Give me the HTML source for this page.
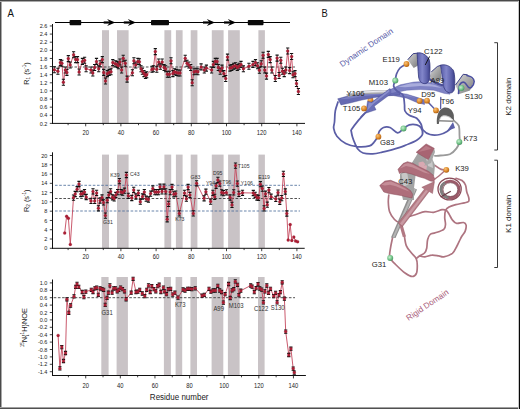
<!DOCTYPE html><html><head><meta charset="utf-8"><style>html,body{margin:0;padding:0;background:#fff;} svg{display:block}</style></head><body>
<svg width="520" height="409" viewBox="0 0 520 409">
<rect x="0" y="0" width="520" height="409" fill="#fff"/>
<line x1="55" y1="22.5" x2="290" y2="22.5" stroke="#000" stroke-width="1.1"/>
<rect x="69.6" y="19.9" width="11.6" height="5.3" rx="0.9" fill="#0a0a0a"/>
<rect x="151" y="19.9" width="18.0" height="5.3" rx="0.9" fill="#0a0a0a"/>
<rect x="247.8" y="19.9" width="15.7" height="5.3" rx="0.9" fill="#0a0a0a"/>
<line x1="103.7" y1="22.5" x2="111.3" y2="22.5" stroke="#000" stroke-width="2.2"/>
<path d="M107.1,18.9 L115.3,22.5 L107.1,26.1 L110.1,22.5 Z" fill="#000"/>
<line x1="123.8" y1="22.5" x2="132" y2="22.5" stroke="#000" stroke-width="2.2"/>
<path d="M127.8,18.9 L136,22.5 L127.8,26.1 L130.8,22.5 Z" fill="#000"/>
<line x1="203" y1="22.5" x2="211" y2="22.5" stroke="#000" stroke-width="2.2"/>
<path d="M206.8,18.9 L215,22.5 L206.8,26.1 L209.8,22.5 Z" fill="#000"/>
<line x1="224" y1="22.5" x2="232" y2="22.5" stroke="#000" stroke-width="2.2"/>
<path d="M227.8,18.9 L236,22.5 L227.8,26.1 L230.8,22.5 Z" fill="#000"/>
<rect x="102" y="30.2" width="7.00" height="93.20" fill="#c9c3c6"/>
<rect x="117" y="30.2" width="11.60" height="93.20" fill="#c9c3c6"/>
<rect x="164.4" y="30.2" width="6.80" height="93.20" fill="#c9c3c6"/>
<rect x="175.9" y="30.2" width="6.70" height="93.20" fill="#c9c3c6"/>
<rect x="190.7" y="30.2" width="6.70" height="93.20" fill="#c9c3c6"/>
<rect x="211.8" y="30.2" width="11.80" height="93.20" fill="#c9c3c6"/>
<rect x="228.1" y="30.2" width="11.70" height="93.20" fill="#c9c3c6"/>
<rect x="258.4" y="30.2" width="6.50" height="93.20" fill="#c9c3c6"/>
<line x1="53.5" y1="67.0" x2="295" y2="67.0" stroke="#333" stroke-width="0.85" stroke-dasharray="2.6,1.6"/>
<line x1="52.5" y1="24" x2="52.5" y2="123.9" stroke="#111" stroke-width="1"/>
<line x1="52" y1="123.4" x2="305" y2="123.4" stroke="#111" stroke-width="1"/>
<line x1="49.8" y1="123.40" x2="52.5" y2="123.40" stroke="#111" stroke-width="0.8"/>
<text transform="translate(47.4,125.50) scale(0.92,1)" text-anchor="end" font-size="6" fill="#222" style="font-family:'Liberation Sans',sans-serif">0.2</text>
<line x1="49.8" y1="115.28" x2="52.5" y2="115.28" stroke="#111" stroke-width="0.8"/>
<text transform="translate(47.4,117.38) scale(0.92,1)" text-anchor="end" font-size="6" fill="#222" style="font-family:'Liberation Sans',sans-serif">0.4</text>
<line x1="49.8" y1="107.16" x2="52.5" y2="107.16" stroke="#111" stroke-width="0.8"/>
<text transform="translate(47.4,109.26) scale(0.92,1)" text-anchor="end" font-size="6" fill="#222" style="font-family:'Liberation Sans',sans-serif">0.6</text>
<line x1="49.8" y1="99.04" x2="52.5" y2="99.04" stroke="#111" stroke-width="0.8"/>
<text transform="translate(47.4,101.14) scale(0.92,1)" text-anchor="end" font-size="6" fill="#222" style="font-family:'Liberation Sans',sans-serif">0.8</text>
<line x1="49.8" y1="90.92" x2="52.5" y2="90.92" stroke="#111" stroke-width="0.8"/>
<text transform="translate(47.4,93.02) scale(0.92,1)" text-anchor="end" font-size="6" fill="#222" style="font-family:'Liberation Sans',sans-serif">1.0</text>
<line x1="49.8" y1="82.80" x2="52.5" y2="82.80" stroke="#111" stroke-width="0.8"/>
<text transform="translate(47.4,84.90) scale(0.92,1)" text-anchor="end" font-size="6" fill="#222" style="font-family:'Liberation Sans',sans-serif">1.2</text>
<line x1="49.8" y1="74.68" x2="52.5" y2="74.68" stroke="#111" stroke-width="0.8"/>
<text transform="translate(47.4,76.78) scale(0.92,1)" text-anchor="end" font-size="6" fill="#222" style="font-family:'Liberation Sans',sans-serif">1.4</text>
<line x1="49.8" y1="66.56" x2="52.5" y2="66.56" stroke="#111" stroke-width="0.8"/>
<text transform="translate(47.4,68.66) scale(0.92,1)" text-anchor="end" font-size="6" fill="#222" style="font-family:'Liberation Sans',sans-serif">1.6</text>
<line x1="49.8" y1="58.44" x2="52.5" y2="58.44" stroke="#111" stroke-width="0.8"/>
<text transform="translate(47.4,60.54) scale(0.92,1)" text-anchor="end" font-size="6" fill="#222" style="font-family:'Liberation Sans',sans-serif">1.8</text>
<line x1="49.8" y1="50.32" x2="52.5" y2="50.32" stroke="#111" stroke-width="0.8"/>
<text transform="translate(47.4,52.42) scale(0.92,1)" text-anchor="end" font-size="6" fill="#222" style="font-family:'Liberation Sans',sans-serif">2.0</text>
<line x1="49.8" y1="42.20" x2="52.5" y2="42.20" stroke="#111" stroke-width="0.8"/>
<text transform="translate(47.4,44.30) scale(0.92,1)" text-anchor="end" font-size="6" fill="#222" style="font-family:'Liberation Sans',sans-serif">2.2</text>
<line x1="49.8" y1="34.08" x2="52.5" y2="34.08" stroke="#111" stroke-width="0.8"/>
<text transform="translate(47.4,36.18) scale(0.92,1)" text-anchor="end" font-size="6" fill="#222" style="font-family:'Liberation Sans',sans-serif">2.4</text>
<line x1="49.8" y1="25.96" x2="52.5" y2="25.96" stroke="#111" stroke-width="0.8"/>
<text transform="translate(47.4,28.06) scale(0.92,1)" text-anchor="end" font-size="6" fill="#222" style="font-family:'Liberation Sans',sans-serif">2.6</text>
<line x1="68.10" y1="123.4" x2="68.10" y2="125.2" stroke="#111" stroke-width="0.8"/>
<line x1="85.70" y1="123.4" x2="85.70" y2="126.30000000000001" stroke="#111" stroke-width="0.8"/>
<text transform="translate(85.70,134.90) scale(0.87,1)" text-anchor="middle" font-size="6.7" fill="#222" style="font-family:'Liberation Sans',sans-serif">20</text>
<line x1="103.30" y1="123.4" x2="103.30" y2="125.2" stroke="#111" stroke-width="0.8"/>
<line x1="120.90" y1="123.4" x2="120.90" y2="126.30000000000001" stroke="#111" stroke-width="0.8"/>
<text transform="translate(120.90,134.90) scale(0.87,1)" text-anchor="middle" font-size="6.7" fill="#222" style="font-family:'Liberation Sans',sans-serif">40</text>
<line x1="138.50" y1="123.4" x2="138.50" y2="125.2" stroke="#111" stroke-width="0.8"/>
<line x1="156.10" y1="123.4" x2="156.10" y2="126.30000000000001" stroke="#111" stroke-width="0.8"/>
<text transform="translate(156.10,134.90) scale(0.87,1)" text-anchor="middle" font-size="6.7" fill="#222" style="font-family:'Liberation Sans',sans-serif">60</text>
<line x1="173.70" y1="123.4" x2="173.70" y2="125.2" stroke="#111" stroke-width="0.8"/>
<line x1="191.30" y1="123.4" x2="191.30" y2="126.30000000000001" stroke="#111" stroke-width="0.8"/>
<text transform="translate(191.30,134.90) scale(0.87,1)" text-anchor="middle" font-size="6.7" fill="#222" style="font-family:'Liberation Sans',sans-serif">80</text>
<line x1="208.90" y1="123.4" x2="208.90" y2="125.2" stroke="#111" stroke-width="0.8"/>
<line x1="226.50" y1="123.4" x2="226.50" y2="126.30000000000001" stroke="#111" stroke-width="0.8"/>
<text transform="translate(226.50,134.90) scale(0.87,1)" text-anchor="middle" font-size="6.7" fill="#222" style="font-family:'Liberation Sans',sans-serif">100</text>
<line x1="244.10" y1="123.4" x2="244.10" y2="125.2" stroke="#111" stroke-width="0.8"/>
<line x1="261.70" y1="123.4" x2="261.70" y2="126.30000000000001" stroke="#111" stroke-width="0.8"/>
<text transform="translate(261.70,134.90) scale(0.87,1)" text-anchor="middle" font-size="6.7" fill="#222" style="font-family:'Liberation Sans',sans-serif">120</text>
<line x1="279.30" y1="123.4" x2="279.30" y2="125.2" stroke="#111" stroke-width="0.8"/>
<line x1="296.90" y1="123.4" x2="296.90" y2="126.30000000000001" stroke="#111" stroke-width="0.8"/>
<text transform="translate(296.90,134.90) scale(0.87,1)" text-anchor="middle" font-size="6.7" fill="#222" style="font-family:'Liberation Sans',sans-serif">140</text>
<polyline points="54.3,69.7 57.9,71.2 60.4,62.6 61.9,63.2 63.4,82.2 65.3,70.0 66.9,72.4 68.3,58.6 70.2,65.0 73.6,54.7 75.7,59.6 77.5,59.6 79.1,72.0 82.4,61.4 84.6,60.2 86.1,68.7 91.0,70.0 92.8,73.0 94.6,67.5 96.5,61.4 98.7,68.7 100.1,63.8 102.3,59.6 103.7,72.4 105.5,81.0 107.3,73.6 109.2,72.4 111.0,71.8 112.8,62.6 115.3,63.8 117.1,64.4 118.3,65.7 119.9,62.0 121.6,70.0 123.2,58.3 125.3,63.2 127.1,79.1 132.4,72.8 133.9,60.8 135.7,65.0 137.9,61.4 139.4,61.8 141.0,68.7 142.4,71.2 144.0,73.6 145.5,75.5 146.7,74.8 152.0,69.3 153.4,68.7 155.3,51.6 156.8,69.3 158.7,62.0 160.4,66.3 162.2,62.0 164.1,67.5 165.6,68.7 167.4,74.2 169.3,74.2 171.0,60.8 172.9,73.6 174.4,71.8 176.3,72.4 178.1,73.0 180.0,73.0 185.2,58.3 187.0,63.2 188.9,65.0 190.7,67.5 192.2,82.8 194.0,71.8 196.1,71.2 197.9,71.8 201.1,66.9 204.3,70.0 206.4,68.1 211.6,70.0 213.4,64.4 215.3,61.4 217.1,61.4 218.3,67.5 220.2,71.2 222.0,68.1 223.8,73.6 225.7,78.5 227.5,57.1 230.0,68.1 231.8,67.5 233.6,66.3 235.5,65.7 237.3,67.5 239.1,66.3 241.0,64.4 243.4,68.7 248.9,66.3 253.0,64.4 255.5,62.6 257.6,65.7 259.4,70.3 261.2,63.8 263.1,55.3 264.7,70.0 266.5,76.1 268.3,54.4 270.2,59.6 271.8,70.0 275.3,78.5 277.1,58.1 279.1,75.5 280.8,60.2 282.4,71.2 284.2,73.6 285.8,70.0 287.7,51.0 289.7,70.6 291.6,56.5 293.0,74.8 295.0,73.6 296.5,83.5 298.4,91.5" fill="none" stroke="#c4475c" stroke-width="0.9"/>
<path d="M54.3,66.7V72.7" stroke="#111" stroke-width="0.75" fill="none"/><path d="M52.7,66.7H55.9M52.7,72.7H55.9" stroke="#111" stroke-width="1.1" fill="none"/>
<path d="M57.9,68.2V74.2" stroke="#111" stroke-width="0.75" fill="none"/><path d="M56.3,68.2H59.5M56.3,74.2H59.5" stroke="#111" stroke-width="1.1" fill="none"/>
<path d="M60.4,59.6V65.6" stroke="#111" stroke-width="0.75" fill="none"/><path d="M58.8,59.6H62.0M58.8,65.6H62.0" stroke="#111" stroke-width="1.1" fill="none"/>
<path d="M61.9,60.2V66.2" stroke="#111" stroke-width="0.75" fill="none"/><path d="M60.3,60.2H63.5M60.3,66.2H63.5" stroke="#111" stroke-width="1.1" fill="none"/>
<path d="M63.4,79.2V85.2" stroke="#111" stroke-width="0.75" fill="none"/><path d="M61.8,79.2H65.0M61.8,85.2H65.0" stroke="#111" stroke-width="1.1" fill="none"/>
<path d="M65.3,67.0V73.0" stroke="#111" stroke-width="0.75" fill="none"/><path d="M63.7,67.0H66.9M63.7,73.0H66.9" stroke="#111" stroke-width="1.1" fill="none"/>
<path d="M66.9,69.4V75.4" stroke="#111" stroke-width="0.75" fill="none"/><path d="M65.3,69.4H68.5M65.3,75.4H68.5" stroke="#111" stroke-width="1.1" fill="none"/>
<path d="M68.3,55.6V61.6" stroke="#111" stroke-width="0.75" fill="none"/><path d="M66.7,55.6H69.9M66.7,61.6H69.9" stroke="#111" stroke-width="1.1" fill="none"/>
<path d="M70.2,62.0V68.0" stroke="#111" stroke-width="0.75" fill="none"/><path d="M68.6,62.0H71.8M68.6,68.0H71.8" stroke="#111" stroke-width="1.1" fill="none"/>
<path d="M73.6,51.7V57.7" stroke="#111" stroke-width="0.75" fill="none"/><path d="M72.0,51.7H75.2M72.0,57.7H75.2" stroke="#111" stroke-width="1.1" fill="none"/>
<path d="M75.7,56.6V62.6" stroke="#111" stroke-width="0.75" fill="none"/><path d="M74.1,56.6H77.3M74.1,62.6H77.3" stroke="#111" stroke-width="1.1" fill="none"/>
<path d="M77.5,56.6V62.6" stroke="#111" stroke-width="0.75" fill="none"/><path d="M75.9,56.6H79.1M75.9,62.6H79.1" stroke="#111" stroke-width="1.1" fill="none"/>
<path d="M79.1,69.0V75.0" stroke="#111" stroke-width="0.75" fill="none"/><path d="M77.5,69.0H80.7M77.5,75.0H80.7" stroke="#111" stroke-width="1.1" fill="none"/>
<path d="M82.4,58.4V64.4" stroke="#111" stroke-width="0.75" fill="none"/><path d="M80.8,58.4H84.0M80.8,64.4H84.0" stroke="#111" stroke-width="1.1" fill="none"/>
<path d="M84.6,57.2V63.2" stroke="#111" stroke-width="0.75" fill="none"/><path d="M83.0,57.2H86.2M83.0,63.2H86.2" stroke="#111" stroke-width="1.1" fill="none"/>
<path d="M86.1,65.7V71.7" stroke="#111" stroke-width="0.75" fill="none"/><path d="M84.5,65.7H87.7M84.5,71.7H87.7" stroke="#111" stroke-width="1.1" fill="none"/>
<path d="M91.0,67.0V73.0" stroke="#111" stroke-width="0.75" fill="none"/><path d="M89.4,67.0H92.6M89.4,73.0H92.6" stroke="#111" stroke-width="1.1" fill="none"/>
<path d="M92.8,70.0V76.0" stroke="#111" stroke-width="0.75" fill="none"/><path d="M91.2,70.0H94.4M91.2,76.0H94.4" stroke="#111" stroke-width="1.1" fill="none"/>
<path d="M94.6,64.5V70.5" stroke="#111" stroke-width="0.75" fill="none"/><path d="M93.0,64.5H96.2M93.0,70.5H96.2" stroke="#111" stroke-width="1.1" fill="none"/>
<path d="M96.5,58.4V64.4" stroke="#111" stroke-width="0.75" fill="none"/><path d="M94.9,58.4H98.1M94.9,64.4H98.1" stroke="#111" stroke-width="1.1" fill="none"/>
<path d="M98.7,65.7V71.7" stroke="#111" stroke-width="0.75" fill="none"/><path d="M97.1,65.7H100.3M97.1,71.7H100.3" stroke="#111" stroke-width="1.1" fill="none"/>
<path d="M100.1,60.8V66.8" stroke="#111" stroke-width="0.75" fill="none"/><path d="M98.5,60.8H101.7M98.5,66.8H101.7" stroke="#111" stroke-width="1.1" fill="none"/>
<path d="M102.3,56.6V62.6" stroke="#111" stroke-width="0.75" fill="none"/><path d="M100.7,56.6H103.9M100.7,62.6H103.9" stroke="#111" stroke-width="1.1" fill="none"/>
<path d="M103.7,69.4V75.4" stroke="#111" stroke-width="0.75" fill="none"/><path d="M102.1,69.4H105.3M102.1,75.4H105.3" stroke="#111" stroke-width="1.1" fill="none"/>
<path d="M105.5,78.0V84.0" stroke="#111" stroke-width="0.75" fill="none"/><path d="M103.9,78.0H107.1M103.9,84.0H107.1" stroke="#111" stroke-width="1.1" fill="none"/>
<path d="M107.3,70.6V76.6" stroke="#111" stroke-width="0.75" fill="none"/><path d="M105.7,70.6H108.9M105.7,76.6H108.9" stroke="#111" stroke-width="1.1" fill="none"/>
<path d="M109.2,69.4V75.4" stroke="#111" stroke-width="0.75" fill="none"/><path d="M107.6,69.4H110.8M107.6,75.4H110.8" stroke="#111" stroke-width="1.1" fill="none"/>
<path d="M111.0,68.8V74.8" stroke="#111" stroke-width="0.75" fill="none"/><path d="M109.4,68.8H112.6M109.4,74.8H112.6" stroke="#111" stroke-width="1.1" fill="none"/>
<path d="M112.8,59.6V65.6" stroke="#111" stroke-width="0.75" fill="none"/><path d="M111.2,59.6H114.4M111.2,65.6H114.4" stroke="#111" stroke-width="1.1" fill="none"/>
<path d="M115.3,60.8V66.8" stroke="#111" stroke-width="0.75" fill="none"/><path d="M113.7,60.8H116.9M113.7,66.8H116.9" stroke="#111" stroke-width="1.1" fill="none"/>
<path d="M117.1,61.4V67.4" stroke="#111" stroke-width="0.75" fill="none"/><path d="M115.5,61.4H118.7M115.5,67.4H118.7" stroke="#111" stroke-width="1.1" fill="none"/>
<path d="M118.3,62.7V68.7" stroke="#111" stroke-width="0.75" fill="none"/><path d="M116.7,62.7H119.9M116.7,68.7H119.9" stroke="#111" stroke-width="1.1" fill="none"/>
<path d="M119.9,59.0V65.0" stroke="#111" stroke-width="0.75" fill="none"/><path d="M118.3,59.0H121.5M118.3,65.0H121.5" stroke="#111" stroke-width="1.1" fill="none"/>
<path d="M121.6,67.0V73.0" stroke="#111" stroke-width="0.75" fill="none"/><path d="M120.0,67.0H123.2M120.0,73.0H123.2" stroke="#111" stroke-width="1.1" fill="none"/>
<path d="M123.2,55.3V61.3" stroke="#111" stroke-width="0.75" fill="none"/><path d="M121.6,55.3H124.8M121.6,61.3H124.8" stroke="#111" stroke-width="1.1" fill="none"/>
<path d="M125.3,60.2V66.2" stroke="#111" stroke-width="0.75" fill="none"/><path d="M123.7,60.2H126.9M123.7,66.2H126.9" stroke="#111" stroke-width="1.1" fill="none"/>
<path d="M127.1,76.1V82.1" stroke="#111" stroke-width="0.75" fill="none"/><path d="M125.5,76.1H128.7M125.5,82.1H128.7" stroke="#111" stroke-width="1.1" fill="none"/>
<path d="M132.4,69.8V75.8" stroke="#111" stroke-width="0.75" fill="none"/><path d="M130.8,69.8H134.0M130.8,75.8H134.0" stroke="#111" stroke-width="1.1" fill="none"/>
<path d="M133.9,57.8V63.8" stroke="#111" stroke-width="0.75" fill="none"/><path d="M132.3,57.8H135.5M132.3,63.8H135.5" stroke="#111" stroke-width="1.1" fill="none"/>
<path d="M135.7,62.0V68.0" stroke="#111" stroke-width="0.75" fill="none"/><path d="M134.1,62.0H137.3M134.1,68.0H137.3" stroke="#111" stroke-width="1.1" fill="none"/>
<path d="M137.9,58.4V64.4" stroke="#111" stroke-width="0.75" fill="none"/><path d="M136.3,58.4H139.5M136.3,64.4H139.5" stroke="#111" stroke-width="1.1" fill="none"/>
<path d="M139.4,58.8V64.8" stroke="#111" stroke-width="0.75" fill="none"/><path d="M137.8,58.8H141.0M137.8,64.8H141.0" stroke="#111" stroke-width="1.1" fill="none"/>
<path d="M141.0,65.7V71.7" stroke="#111" stroke-width="0.75" fill="none"/><path d="M139.4,65.7H142.6M139.4,71.7H142.6" stroke="#111" stroke-width="1.1" fill="none"/>
<path d="M142.4,68.2V74.2" stroke="#111" stroke-width="0.75" fill="none"/><path d="M140.8,68.2H144.0M140.8,74.2H144.0" stroke="#111" stroke-width="1.1" fill="none"/>
<path d="M144.0,70.6V76.6" stroke="#111" stroke-width="0.75" fill="none"/><path d="M142.4,70.6H145.6M142.4,76.6H145.6" stroke="#111" stroke-width="1.1" fill="none"/>
<path d="M145.5,72.5V78.5" stroke="#111" stroke-width="0.75" fill="none"/><path d="M143.9,72.5H147.1M143.9,78.5H147.1" stroke="#111" stroke-width="1.1" fill="none"/>
<path d="M146.7,71.8V77.8" stroke="#111" stroke-width="0.75" fill="none"/><path d="M145.1,71.8H148.3M145.1,77.8H148.3" stroke="#111" stroke-width="1.1" fill="none"/>
<path d="M152.0,66.3V72.3" stroke="#111" stroke-width="0.75" fill="none"/><path d="M150.4,66.3H153.6M150.4,72.3H153.6" stroke="#111" stroke-width="1.1" fill="none"/>
<path d="M153.4,65.7V71.7" stroke="#111" stroke-width="0.75" fill="none"/><path d="M151.8,65.7H155.0M151.8,71.7H155.0" stroke="#111" stroke-width="1.1" fill="none"/>
<path d="M155.3,48.6V54.6" stroke="#111" stroke-width="0.75" fill="none"/><path d="M153.7,48.6H156.9M153.7,54.6H156.9" stroke="#111" stroke-width="1.1" fill="none"/>
<path d="M156.8,66.3V72.3" stroke="#111" stroke-width="0.75" fill="none"/><path d="M155.2,66.3H158.4M155.2,72.3H158.4" stroke="#111" stroke-width="1.1" fill="none"/>
<path d="M158.7,59.0V65.0" stroke="#111" stroke-width="0.75" fill="none"/><path d="M157.1,59.0H160.3M157.1,65.0H160.3" stroke="#111" stroke-width="1.1" fill="none"/>
<path d="M160.4,63.3V69.3" stroke="#111" stroke-width="0.75" fill="none"/><path d="M158.8,63.3H162.0M158.8,69.3H162.0" stroke="#111" stroke-width="1.1" fill="none"/>
<path d="M162.2,59.0V65.0" stroke="#111" stroke-width="0.75" fill="none"/><path d="M160.6,59.0H163.8M160.6,65.0H163.8" stroke="#111" stroke-width="1.1" fill="none"/>
<path d="M164.1,64.5V70.5" stroke="#111" stroke-width="0.75" fill="none"/><path d="M162.5,64.5H165.7M162.5,70.5H165.7" stroke="#111" stroke-width="1.1" fill="none"/>
<path d="M165.6,65.7V71.7" stroke="#111" stroke-width="0.75" fill="none"/><path d="M164.0,65.7H167.2M164.0,71.7H167.2" stroke="#111" stroke-width="1.1" fill="none"/>
<path d="M167.4,71.2V77.2" stroke="#111" stroke-width="0.75" fill="none"/><path d="M165.8,71.2H169.0M165.8,77.2H169.0" stroke="#111" stroke-width="1.1" fill="none"/>
<path d="M169.3,71.2V77.2" stroke="#111" stroke-width="0.75" fill="none"/><path d="M167.7,71.2H170.9M167.7,77.2H170.9" stroke="#111" stroke-width="1.1" fill="none"/>
<path d="M171.0,57.8V63.8" stroke="#111" stroke-width="0.75" fill="none"/><path d="M169.4,57.8H172.6M169.4,63.8H172.6" stroke="#111" stroke-width="1.1" fill="none"/>
<path d="M172.9,70.6V76.6" stroke="#111" stroke-width="0.75" fill="none"/><path d="M171.3,70.6H174.5M171.3,76.6H174.5" stroke="#111" stroke-width="1.1" fill="none"/>
<path d="M174.4,68.8V74.8" stroke="#111" stroke-width="0.75" fill="none"/><path d="M172.8,68.8H176.0M172.8,74.8H176.0" stroke="#111" stroke-width="1.1" fill="none"/>
<path d="M176.3,69.4V75.4" stroke="#111" stroke-width="0.75" fill="none"/><path d="M174.7,69.4H177.9M174.7,75.4H177.9" stroke="#111" stroke-width="1.1" fill="none"/>
<path d="M178.1,70.0V76.0" stroke="#111" stroke-width="0.75" fill="none"/><path d="M176.5,70.0H179.7M176.5,76.0H179.7" stroke="#111" stroke-width="1.1" fill="none"/>
<path d="M180.0,70.0V76.0" stroke="#111" stroke-width="0.75" fill="none"/><path d="M178.4,70.0H181.6M178.4,76.0H181.6" stroke="#111" stroke-width="1.1" fill="none"/>
<path d="M185.2,55.3V61.3" stroke="#111" stroke-width="0.75" fill="none"/><path d="M183.6,55.3H186.8M183.6,61.3H186.8" stroke="#111" stroke-width="1.1" fill="none"/>
<path d="M187.0,60.2V66.2" stroke="#111" stroke-width="0.75" fill="none"/><path d="M185.4,60.2H188.6M185.4,66.2H188.6" stroke="#111" stroke-width="1.1" fill="none"/>
<path d="M188.9,62.0V68.0" stroke="#111" stroke-width="0.75" fill="none"/><path d="M187.3,62.0H190.5M187.3,68.0H190.5" stroke="#111" stroke-width="1.1" fill="none"/>
<path d="M190.7,64.5V70.5" stroke="#111" stroke-width="0.75" fill="none"/><path d="M189.1,64.5H192.3M189.1,70.5H192.3" stroke="#111" stroke-width="1.1" fill="none"/>
<path d="M192.2,79.8V85.8" stroke="#111" stroke-width="0.75" fill="none"/><path d="M190.6,79.8H193.8M190.6,85.8H193.8" stroke="#111" stroke-width="1.1" fill="none"/>
<path d="M194.0,68.8V74.8" stroke="#111" stroke-width="0.75" fill="none"/><path d="M192.4,68.8H195.6M192.4,74.8H195.6" stroke="#111" stroke-width="1.1" fill="none"/>
<path d="M196.1,68.2V74.2" stroke="#111" stroke-width="0.75" fill="none"/><path d="M194.5,68.2H197.7M194.5,74.2H197.7" stroke="#111" stroke-width="1.1" fill="none"/>
<path d="M197.9,68.8V74.8" stroke="#111" stroke-width="0.75" fill="none"/><path d="M196.3,68.8H199.5M196.3,74.8H199.5" stroke="#111" stroke-width="1.1" fill="none"/>
<path d="M201.1,63.9V69.9" stroke="#111" stroke-width="0.75" fill="none"/><path d="M199.5,63.9H202.7M199.5,69.9H202.7" stroke="#111" stroke-width="1.1" fill="none"/>
<path d="M204.3,67.0V73.0" stroke="#111" stroke-width="0.75" fill="none"/><path d="M202.7,67.0H205.9M202.7,73.0H205.9" stroke="#111" stroke-width="1.1" fill="none"/>
<path d="M206.4,65.1V71.1" stroke="#111" stroke-width="0.75" fill="none"/><path d="M204.8,65.1H208.0M204.8,71.1H208.0" stroke="#111" stroke-width="1.1" fill="none"/>
<path d="M211.6,67.0V73.0" stroke="#111" stroke-width="0.75" fill="none"/><path d="M210.0,67.0H213.2M210.0,73.0H213.2" stroke="#111" stroke-width="1.1" fill="none"/>
<path d="M213.4,61.4V67.4" stroke="#111" stroke-width="0.75" fill="none"/><path d="M211.8,61.4H215.0M211.8,67.4H215.0" stroke="#111" stroke-width="1.1" fill="none"/>
<path d="M215.3,58.4V64.4" stroke="#111" stroke-width="0.75" fill="none"/><path d="M213.7,58.4H216.9M213.7,64.4H216.9" stroke="#111" stroke-width="1.1" fill="none"/>
<path d="M217.1,58.4V64.4" stroke="#111" stroke-width="0.75" fill="none"/><path d="M215.5,58.4H218.7M215.5,64.4H218.7" stroke="#111" stroke-width="1.1" fill="none"/>
<path d="M218.3,64.5V70.5" stroke="#111" stroke-width="0.75" fill="none"/><path d="M216.7,64.5H219.9M216.7,70.5H219.9" stroke="#111" stroke-width="1.1" fill="none"/>
<path d="M220.2,68.2V74.2" stroke="#111" stroke-width="0.75" fill="none"/><path d="M218.6,68.2H221.8M218.6,74.2H221.8" stroke="#111" stroke-width="1.1" fill="none"/>
<path d="M222.0,65.1V71.1" stroke="#111" stroke-width="0.75" fill="none"/><path d="M220.4,65.1H223.6M220.4,71.1H223.6" stroke="#111" stroke-width="1.1" fill="none"/>
<path d="M223.8,70.6V76.6" stroke="#111" stroke-width="0.75" fill="none"/><path d="M222.2,70.6H225.4M222.2,76.6H225.4" stroke="#111" stroke-width="1.1" fill="none"/>
<path d="M225.7,75.5V81.5" stroke="#111" stroke-width="0.75" fill="none"/><path d="M224.1,75.5H227.3M224.1,81.5H227.3" stroke="#111" stroke-width="1.1" fill="none"/>
<path d="M227.5,54.1V60.1" stroke="#111" stroke-width="0.75" fill="none"/><path d="M225.9,54.1H229.1M225.9,60.1H229.1" stroke="#111" stroke-width="1.1" fill="none"/>
<path d="M230.0,65.1V71.1" stroke="#111" stroke-width="0.75" fill="none"/><path d="M228.4,65.1H231.6M228.4,71.1H231.6" stroke="#111" stroke-width="1.1" fill="none"/>
<path d="M231.8,64.5V70.5" stroke="#111" stroke-width="0.75" fill="none"/><path d="M230.2,64.5H233.4M230.2,70.5H233.4" stroke="#111" stroke-width="1.1" fill="none"/>
<path d="M233.6,63.3V69.3" stroke="#111" stroke-width="0.75" fill="none"/><path d="M232.0,63.3H235.2M232.0,69.3H235.2" stroke="#111" stroke-width="1.1" fill="none"/>
<path d="M235.5,62.7V68.7" stroke="#111" stroke-width="0.75" fill="none"/><path d="M233.9,62.7H237.1M233.9,68.7H237.1" stroke="#111" stroke-width="1.1" fill="none"/>
<path d="M237.3,64.5V70.5" stroke="#111" stroke-width="0.75" fill="none"/><path d="M235.7,64.5H238.9M235.7,70.5H238.9" stroke="#111" stroke-width="1.1" fill="none"/>
<path d="M239.1,63.3V69.3" stroke="#111" stroke-width="0.75" fill="none"/><path d="M237.5,63.3H240.7M237.5,69.3H240.7" stroke="#111" stroke-width="1.1" fill="none"/>
<path d="M241.0,61.4V67.4" stroke="#111" stroke-width="0.75" fill="none"/><path d="M239.4,61.4H242.6M239.4,67.4H242.6" stroke="#111" stroke-width="1.1" fill="none"/>
<path d="M243.4,65.7V71.7" stroke="#111" stroke-width="0.75" fill="none"/><path d="M241.8,65.7H245.0M241.8,71.7H245.0" stroke="#111" stroke-width="1.1" fill="none"/>
<path d="M248.9,63.3V69.3" stroke="#111" stroke-width="0.75" fill="none"/><path d="M247.3,63.3H250.5M247.3,69.3H250.5" stroke="#111" stroke-width="1.1" fill="none"/>
<path d="M253.0,61.4V67.4" stroke="#111" stroke-width="0.75" fill="none"/><path d="M251.4,61.4H254.6M251.4,67.4H254.6" stroke="#111" stroke-width="1.1" fill="none"/>
<path d="M255.5,59.6V65.6" stroke="#111" stroke-width="0.75" fill="none"/><path d="M253.9,59.6H257.1M253.9,65.6H257.1" stroke="#111" stroke-width="1.1" fill="none"/>
<path d="M257.6,62.7V68.7" stroke="#111" stroke-width="0.75" fill="none"/><path d="M256.0,62.7H259.2M256.0,68.7H259.2" stroke="#111" stroke-width="1.1" fill="none"/>
<path d="M259.4,67.3V73.3" stroke="#111" stroke-width="0.75" fill="none"/><path d="M257.8,67.3H261.0M257.8,73.3H261.0" stroke="#111" stroke-width="1.1" fill="none"/>
<path d="M261.2,60.8V66.8" stroke="#111" stroke-width="0.75" fill="none"/><path d="M259.6,60.8H262.8M259.6,66.8H262.8" stroke="#111" stroke-width="1.1" fill="none"/>
<path d="M263.1,52.3V58.3" stroke="#111" stroke-width="0.75" fill="none"/><path d="M261.5,52.3H264.7M261.5,58.3H264.7" stroke="#111" stroke-width="1.1" fill="none"/>
<path d="M264.7,67.0V73.0" stroke="#111" stroke-width="0.75" fill="none"/><path d="M263.1,67.0H266.3M263.1,73.0H266.3" stroke="#111" stroke-width="1.1" fill="none"/>
<path d="M266.5,73.1V79.1" stroke="#111" stroke-width="0.75" fill="none"/><path d="M264.9,73.1H268.1M264.9,79.1H268.1" stroke="#111" stroke-width="1.1" fill="none"/>
<path d="M268.3,51.4V57.4" stroke="#111" stroke-width="0.75" fill="none"/><path d="M266.7,51.4H269.9M266.7,57.4H269.9" stroke="#111" stroke-width="1.1" fill="none"/>
<path d="M270.2,56.6V62.6" stroke="#111" stroke-width="0.75" fill="none"/><path d="M268.6,56.6H271.8M268.6,62.6H271.8" stroke="#111" stroke-width="1.1" fill="none"/>
<path d="M271.8,67.0V73.0" stroke="#111" stroke-width="0.75" fill="none"/><path d="M270.2,67.0H273.4M270.2,73.0H273.4" stroke="#111" stroke-width="1.1" fill="none"/>
<path d="M275.3,75.5V81.5" stroke="#111" stroke-width="0.75" fill="none"/><path d="M273.7,75.5H276.9M273.7,81.5H276.9" stroke="#111" stroke-width="1.1" fill="none"/>
<path d="M277.1,55.1V61.1" stroke="#111" stroke-width="0.75" fill="none"/><path d="M275.5,55.1H278.7M275.5,61.1H278.7" stroke="#111" stroke-width="1.1" fill="none"/>
<path d="M279.1,72.5V78.5" stroke="#111" stroke-width="0.75" fill="none"/><path d="M277.5,72.5H280.7M277.5,78.5H280.7" stroke="#111" stroke-width="1.1" fill="none"/>
<path d="M280.8,57.2V63.2" stroke="#111" stroke-width="0.75" fill="none"/><path d="M279.2,57.2H282.4M279.2,63.2H282.4" stroke="#111" stroke-width="1.1" fill="none"/>
<path d="M282.4,68.2V74.2" stroke="#111" stroke-width="0.75" fill="none"/><path d="M280.8,68.2H284.0M280.8,74.2H284.0" stroke="#111" stroke-width="1.1" fill="none"/>
<path d="M284.2,70.6V76.6" stroke="#111" stroke-width="0.75" fill="none"/><path d="M282.6,70.6H285.8M282.6,76.6H285.8" stroke="#111" stroke-width="1.1" fill="none"/>
<path d="M285.8,67.0V73.0" stroke="#111" stroke-width="0.75" fill="none"/><path d="M284.2,67.0H287.4M284.2,73.0H287.4" stroke="#111" stroke-width="1.1" fill="none"/>
<path d="M287.7,48.0V54.0" stroke="#111" stroke-width="0.75" fill="none"/><path d="M286.1,48.0H289.3M286.1,54.0H289.3" stroke="#111" stroke-width="1.1" fill="none"/>
<path d="M289.7,67.6V73.6" stroke="#111" stroke-width="0.75" fill="none"/><path d="M288.1,67.6H291.3M288.1,73.6H291.3" stroke="#111" stroke-width="1.1" fill="none"/>
<path d="M291.6,53.5V59.5" stroke="#111" stroke-width="0.75" fill="none"/><path d="M290.0,53.5H293.2M290.0,59.5H293.2" stroke="#111" stroke-width="1.1" fill="none"/>
<path d="M293.0,71.8V77.8" stroke="#111" stroke-width="0.75" fill="none"/><path d="M291.4,71.8H294.6M291.4,77.8H294.6" stroke="#111" stroke-width="1.1" fill="none"/>
<path d="M295.0,70.6V76.6" stroke="#111" stroke-width="0.75" fill="none"/><path d="M293.4,70.6H296.6M293.4,76.6H296.6" stroke="#111" stroke-width="1.1" fill="none"/>
<path d="M296.5,80.5V86.5" stroke="#111" stroke-width="0.75" fill="none"/><path d="M294.9,80.5H298.1M294.9,86.5H298.1" stroke="#111" stroke-width="1.1" fill="none"/>
<path d="M298.4,88.5V94.5" stroke="#111" stroke-width="0.75" fill="none"/><path d="M296.8,88.5H300.0M296.8,94.5H300.0" stroke="#111" stroke-width="1.1" fill="none"/>
<circle cx="54.3" cy="69.7" r="1.5" fill="#ac1f35" stroke="#8a1528" stroke-width="0.2"/>
<circle cx="57.9" cy="71.2" r="1.5" fill="#ac1f35" stroke="#8a1528" stroke-width="0.2"/>
<circle cx="60.4" cy="62.6" r="1.5" fill="#ac1f35" stroke="#8a1528" stroke-width="0.2"/>
<circle cx="61.9" cy="63.2" r="1.5" fill="#ac1f35" stroke="#8a1528" stroke-width="0.2"/>
<circle cx="63.4" cy="82.2" r="1.5" fill="#ac1f35" stroke="#8a1528" stroke-width="0.2"/>
<circle cx="65.3" cy="70.0" r="1.5" fill="#ac1f35" stroke="#8a1528" stroke-width="0.2"/>
<circle cx="66.9" cy="72.4" r="1.5" fill="#ac1f35" stroke="#8a1528" stroke-width="0.2"/>
<circle cx="68.3" cy="58.6" r="1.5" fill="#ac1f35" stroke="#8a1528" stroke-width="0.2"/>
<circle cx="70.2" cy="65.0" r="1.5" fill="#ac1f35" stroke="#8a1528" stroke-width="0.2"/>
<circle cx="73.6" cy="54.7" r="1.5" fill="#ac1f35" stroke="#8a1528" stroke-width="0.2"/>
<circle cx="75.7" cy="59.6" r="1.5" fill="#ac1f35" stroke="#8a1528" stroke-width="0.2"/>
<circle cx="77.5" cy="59.6" r="1.5" fill="#ac1f35" stroke="#8a1528" stroke-width="0.2"/>
<circle cx="79.1" cy="72.0" r="1.5" fill="#ac1f35" stroke="#8a1528" stroke-width="0.2"/>
<circle cx="82.4" cy="61.4" r="1.5" fill="#ac1f35" stroke="#8a1528" stroke-width="0.2"/>
<circle cx="84.6" cy="60.2" r="1.5" fill="#ac1f35" stroke="#8a1528" stroke-width="0.2"/>
<circle cx="86.1" cy="68.7" r="1.5" fill="#ac1f35" stroke="#8a1528" stroke-width="0.2"/>
<circle cx="91.0" cy="70.0" r="1.5" fill="#ac1f35" stroke="#8a1528" stroke-width="0.2"/>
<circle cx="92.8" cy="73.0" r="1.5" fill="#ac1f35" stroke="#8a1528" stroke-width="0.2"/>
<circle cx="94.6" cy="67.5" r="1.5" fill="#ac1f35" stroke="#8a1528" stroke-width="0.2"/>
<circle cx="96.5" cy="61.4" r="1.5" fill="#ac1f35" stroke="#8a1528" stroke-width="0.2"/>
<circle cx="98.7" cy="68.7" r="1.5" fill="#ac1f35" stroke="#8a1528" stroke-width="0.2"/>
<circle cx="100.1" cy="63.8" r="1.5" fill="#ac1f35" stroke="#8a1528" stroke-width="0.2"/>
<circle cx="102.3" cy="59.6" r="1.5" fill="#ac1f35" stroke="#8a1528" stroke-width="0.2"/>
<circle cx="103.7" cy="72.4" r="1.5" fill="#ac1f35" stroke="#8a1528" stroke-width="0.2"/>
<circle cx="105.5" cy="81.0" r="1.5" fill="#ac1f35" stroke="#8a1528" stroke-width="0.2"/>
<circle cx="107.3" cy="73.6" r="1.5" fill="#ac1f35" stroke="#8a1528" stroke-width="0.2"/>
<circle cx="109.2" cy="72.4" r="1.5" fill="#ac1f35" stroke="#8a1528" stroke-width="0.2"/>
<circle cx="111.0" cy="71.8" r="1.5" fill="#ac1f35" stroke="#8a1528" stroke-width="0.2"/>
<circle cx="112.8" cy="62.6" r="1.5" fill="#ac1f35" stroke="#8a1528" stroke-width="0.2"/>
<circle cx="115.3" cy="63.8" r="1.5" fill="#ac1f35" stroke="#8a1528" stroke-width="0.2"/>
<circle cx="117.1" cy="64.4" r="1.5" fill="#ac1f35" stroke="#8a1528" stroke-width="0.2"/>
<circle cx="118.3" cy="65.7" r="1.5" fill="#ac1f35" stroke="#8a1528" stroke-width="0.2"/>
<circle cx="119.9" cy="62.0" r="1.5" fill="#ac1f35" stroke="#8a1528" stroke-width="0.2"/>
<circle cx="121.6" cy="70.0" r="1.5" fill="#ac1f35" stroke="#8a1528" stroke-width="0.2"/>
<circle cx="123.2" cy="58.3" r="1.5" fill="#ac1f35" stroke="#8a1528" stroke-width="0.2"/>
<circle cx="125.3" cy="63.2" r="1.5" fill="#ac1f35" stroke="#8a1528" stroke-width="0.2"/>
<circle cx="127.1" cy="79.1" r="1.5" fill="#ac1f35" stroke="#8a1528" stroke-width="0.2"/>
<circle cx="132.4" cy="72.8" r="1.5" fill="#ac1f35" stroke="#8a1528" stroke-width="0.2"/>
<circle cx="133.9" cy="60.8" r="1.5" fill="#ac1f35" stroke="#8a1528" stroke-width="0.2"/>
<circle cx="135.7" cy="65.0" r="1.5" fill="#ac1f35" stroke="#8a1528" stroke-width="0.2"/>
<circle cx="137.9" cy="61.4" r="1.5" fill="#ac1f35" stroke="#8a1528" stroke-width="0.2"/>
<circle cx="139.4" cy="61.8" r="1.5" fill="#ac1f35" stroke="#8a1528" stroke-width="0.2"/>
<circle cx="141.0" cy="68.7" r="1.5" fill="#ac1f35" stroke="#8a1528" stroke-width="0.2"/>
<circle cx="142.4" cy="71.2" r="1.5" fill="#ac1f35" stroke="#8a1528" stroke-width="0.2"/>
<circle cx="144.0" cy="73.6" r="1.5" fill="#ac1f35" stroke="#8a1528" stroke-width="0.2"/>
<circle cx="145.5" cy="75.5" r="1.5" fill="#ac1f35" stroke="#8a1528" stroke-width="0.2"/>
<circle cx="146.7" cy="74.8" r="1.5" fill="#ac1f35" stroke="#8a1528" stroke-width="0.2"/>
<circle cx="152.0" cy="69.3" r="1.5" fill="#ac1f35" stroke="#8a1528" stroke-width="0.2"/>
<circle cx="153.4" cy="68.7" r="1.5" fill="#ac1f35" stroke="#8a1528" stroke-width="0.2"/>
<circle cx="155.3" cy="51.6" r="1.5" fill="#ac1f35" stroke="#8a1528" stroke-width="0.2"/>
<circle cx="156.8" cy="69.3" r="1.5" fill="#ac1f35" stroke="#8a1528" stroke-width="0.2"/>
<circle cx="158.7" cy="62.0" r="1.5" fill="#ac1f35" stroke="#8a1528" stroke-width="0.2"/>
<circle cx="160.4" cy="66.3" r="1.5" fill="#ac1f35" stroke="#8a1528" stroke-width="0.2"/>
<circle cx="162.2" cy="62.0" r="1.5" fill="#ac1f35" stroke="#8a1528" stroke-width="0.2"/>
<circle cx="164.1" cy="67.5" r="1.5" fill="#ac1f35" stroke="#8a1528" stroke-width="0.2"/>
<circle cx="165.6" cy="68.7" r="1.5" fill="#ac1f35" stroke="#8a1528" stroke-width="0.2"/>
<circle cx="167.4" cy="74.2" r="1.5" fill="#ac1f35" stroke="#8a1528" stroke-width="0.2"/>
<circle cx="169.3" cy="74.2" r="1.5" fill="#ac1f35" stroke="#8a1528" stroke-width="0.2"/>
<circle cx="171.0" cy="60.8" r="1.5" fill="#ac1f35" stroke="#8a1528" stroke-width="0.2"/>
<circle cx="172.9" cy="73.6" r="1.5" fill="#ac1f35" stroke="#8a1528" stroke-width="0.2"/>
<circle cx="174.4" cy="71.8" r="1.5" fill="#ac1f35" stroke="#8a1528" stroke-width="0.2"/>
<circle cx="176.3" cy="72.4" r="1.5" fill="#ac1f35" stroke="#8a1528" stroke-width="0.2"/>
<circle cx="178.1" cy="73.0" r="1.5" fill="#ac1f35" stroke="#8a1528" stroke-width="0.2"/>
<circle cx="180.0" cy="73.0" r="1.5" fill="#ac1f35" stroke="#8a1528" stroke-width="0.2"/>
<circle cx="185.2" cy="58.3" r="1.5" fill="#ac1f35" stroke="#8a1528" stroke-width="0.2"/>
<circle cx="187.0" cy="63.2" r="1.5" fill="#ac1f35" stroke="#8a1528" stroke-width="0.2"/>
<circle cx="188.9" cy="65.0" r="1.5" fill="#ac1f35" stroke="#8a1528" stroke-width="0.2"/>
<circle cx="190.7" cy="67.5" r="1.5" fill="#ac1f35" stroke="#8a1528" stroke-width="0.2"/>
<circle cx="192.2" cy="82.8" r="1.5" fill="#ac1f35" stroke="#8a1528" stroke-width="0.2"/>
<circle cx="194.0" cy="71.8" r="1.5" fill="#ac1f35" stroke="#8a1528" stroke-width="0.2"/>
<circle cx="196.1" cy="71.2" r="1.5" fill="#ac1f35" stroke="#8a1528" stroke-width="0.2"/>
<circle cx="197.9" cy="71.8" r="1.5" fill="#ac1f35" stroke="#8a1528" stroke-width="0.2"/>
<circle cx="201.1" cy="66.9" r="1.5" fill="#ac1f35" stroke="#8a1528" stroke-width="0.2"/>
<circle cx="204.3" cy="70.0" r="1.5" fill="#ac1f35" stroke="#8a1528" stroke-width="0.2"/>
<circle cx="206.4" cy="68.1" r="1.5" fill="#ac1f35" stroke="#8a1528" stroke-width="0.2"/>
<circle cx="211.6" cy="70.0" r="1.5" fill="#ac1f35" stroke="#8a1528" stroke-width="0.2"/>
<circle cx="213.4" cy="64.4" r="1.5" fill="#ac1f35" stroke="#8a1528" stroke-width="0.2"/>
<circle cx="215.3" cy="61.4" r="1.5" fill="#ac1f35" stroke="#8a1528" stroke-width="0.2"/>
<circle cx="217.1" cy="61.4" r="1.5" fill="#ac1f35" stroke="#8a1528" stroke-width="0.2"/>
<circle cx="218.3" cy="67.5" r="1.5" fill="#ac1f35" stroke="#8a1528" stroke-width="0.2"/>
<circle cx="220.2" cy="71.2" r="1.5" fill="#ac1f35" stroke="#8a1528" stroke-width="0.2"/>
<circle cx="222.0" cy="68.1" r="1.5" fill="#ac1f35" stroke="#8a1528" stroke-width="0.2"/>
<circle cx="223.8" cy="73.6" r="1.5" fill="#ac1f35" stroke="#8a1528" stroke-width="0.2"/>
<circle cx="225.7" cy="78.5" r="1.5" fill="#ac1f35" stroke="#8a1528" stroke-width="0.2"/>
<circle cx="227.5" cy="57.1" r="1.5" fill="#ac1f35" stroke="#8a1528" stroke-width="0.2"/>
<circle cx="230.0" cy="68.1" r="1.5" fill="#ac1f35" stroke="#8a1528" stroke-width="0.2"/>
<circle cx="231.8" cy="67.5" r="1.5" fill="#ac1f35" stroke="#8a1528" stroke-width="0.2"/>
<circle cx="233.6" cy="66.3" r="1.5" fill="#ac1f35" stroke="#8a1528" stroke-width="0.2"/>
<circle cx="235.5" cy="65.7" r="1.5" fill="#ac1f35" stroke="#8a1528" stroke-width="0.2"/>
<circle cx="237.3" cy="67.5" r="1.5" fill="#ac1f35" stroke="#8a1528" stroke-width="0.2"/>
<circle cx="239.1" cy="66.3" r="1.5" fill="#ac1f35" stroke="#8a1528" stroke-width="0.2"/>
<circle cx="241.0" cy="64.4" r="1.5" fill="#ac1f35" stroke="#8a1528" stroke-width="0.2"/>
<circle cx="243.4" cy="68.7" r="1.5" fill="#ac1f35" stroke="#8a1528" stroke-width="0.2"/>
<circle cx="248.9" cy="66.3" r="1.5" fill="#ac1f35" stroke="#8a1528" stroke-width="0.2"/>
<circle cx="253.0" cy="64.4" r="1.5" fill="#ac1f35" stroke="#8a1528" stroke-width="0.2"/>
<circle cx="255.5" cy="62.6" r="1.5" fill="#ac1f35" stroke="#8a1528" stroke-width="0.2"/>
<circle cx="257.6" cy="65.7" r="1.5" fill="#ac1f35" stroke="#8a1528" stroke-width="0.2"/>
<circle cx="259.4" cy="70.3" r="1.5" fill="#ac1f35" stroke="#8a1528" stroke-width="0.2"/>
<circle cx="261.2" cy="63.8" r="1.5" fill="#ac1f35" stroke="#8a1528" stroke-width="0.2"/>
<circle cx="263.1" cy="55.3" r="1.5" fill="#ac1f35" stroke="#8a1528" stroke-width="0.2"/>
<circle cx="264.7" cy="70.0" r="1.5" fill="#ac1f35" stroke="#8a1528" stroke-width="0.2"/>
<circle cx="266.5" cy="76.1" r="1.5" fill="#ac1f35" stroke="#8a1528" stroke-width="0.2"/>
<circle cx="268.3" cy="54.4" r="1.5" fill="#ac1f35" stroke="#8a1528" stroke-width="0.2"/>
<circle cx="270.2" cy="59.6" r="1.5" fill="#ac1f35" stroke="#8a1528" stroke-width="0.2"/>
<circle cx="271.8" cy="70.0" r="1.5" fill="#ac1f35" stroke="#8a1528" stroke-width="0.2"/>
<circle cx="275.3" cy="78.5" r="1.5" fill="#ac1f35" stroke="#8a1528" stroke-width="0.2"/>
<circle cx="277.1" cy="58.1" r="1.5" fill="#ac1f35" stroke="#8a1528" stroke-width="0.2"/>
<circle cx="279.1" cy="75.5" r="1.5" fill="#ac1f35" stroke="#8a1528" stroke-width="0.2"/>
<circle cx="280.8" cy="60.2" r="1.5" fill="#ac1f35" stroke="#8a1528" stroke-width="0.2"/>
<circle cx="282.4" cy="71.2" r="1.5" fill="#ac1f35" stroke="#8a1528" stroke-width="0.2"/>
<circle cx="284.2" cy="73.6" r="1.5" fill="#ac1f35" stroke="#8a1528" stroke-width="0.2"/>
<circle cx="285.8" cy="70.0" r="1.5" fill="#ac1f35" stroke="#8a1528" stroke-width="0.2"/>
<circle cx="287.7" cy="51.0" r="1.5" fill="#ac1f35" stroke="#8a1528" stroke-width="0.2"/>
<circle cx="289.7" cy="70.6" r="1.5" fill="#ac1f35" stroke="#8a1528" stroke-width="0.2"/>
<circle cx="291.6" cy="56.5" r="1.5" fill="#ac1f35" stroke="#8a1528" stroke-width="0.2"/>
<circle cx="293.0" cy="74.8" r="1.5" fill="#ac1f35" stroke="#8a1528" stroke-width="0.2"/>
<circle cx="295.0" cy="73.6" r="1.5" fill="#ac1f35" stroke="#8a1528" stroke-width="0.2"/>
<circle cx="296.5" cy="83.5" r="1.5" fill="#ac1f35" stroke="#8a1528" stroke-width="0.2"/>
<circle cx="298.4" cy="91.5" r="1.5" fill="#ac1f35" stroke="#8a1528" stroke-width="0.2"/>
<rect x="102" y="154.6" width="7.00" height="93.70" fill="#c9c3c6"/>
<rect x="117" y="154.6" width="11.60" height="93.70" fill="#c9c3c6"/>
<rect x="164.4" y="154.6" width="6.80" height="93.70" fill="#c9c3c6"/>
<rect x="175.9" y="154.6" width="6.70" height="93.70" fill="#c9c3c6"/>
<rect x="190.7" y="154.6" width="6.70" height="93.70" fill="#c9c3c6"/>
<rect x="211.8" y="154.6" width="11.80" height="93.70" fill="#c9c3c6"/>
<rect x="228.1" y="154.6" width="11.70" height="93.70" fill="#c9c3c6"/>
<rect x="258.4" y="154.6" width="6.50" height="93.70" fill="#c9c3c6"/>
<line x1="55" y1="185.3" x2="300" y2="185.3" stroke="#4f6f9c" stroke-width="0.85" stroke-dasharray="2.6,1.6"/>
<line x1="55" y1="211" x2="300" y2="211" stroke="#4f6f9c" stroke-width="0.85" stroke-dasharray="2.6,1.6"/>
<line x1="55" y1="198.5" x2="300" y2="198.5" stroke="#333" stroke-width="0.85" stroke-dasharray="2.6,1.6"/>
<line x1="52.5" y1="152.3" x2="52.5" y2="248.8" stroke="#111" stroke-width="1"/>
<line x1="52" y1="248.3" x2="304.7" y2="248.3" stroke="#111" stroke-width="1"/>
<line x1="49.8" y1="248.30" x2="52.5" y2="248.30" stroke="#111" stroke-width="0.8"/>
<text transform="translate(47.4,250.40) scale(0.92,1)" text-anchor="end" font-size="6" fill="#222" style="font-family:'Liberation Sans',sans-serif">0</text>
<line x1="49.8" y1="239.02" x2="52.5" y2="239.02" stroke="#111" stroke-width="0.8"/>
<text transform="translate(47.4,241.12) scale(0.92,1)" text-anchor="end" font-size="6" fill="#222" style="font-family:'Liberation Sans',sans-serif">2</text>
<line x1="49.8" y1="229.74" x2="52.5" y2="229.74" stroke="#111" stroke-width="0.8"/>
<text transform="translate(47.4,231.84) scale(0.92,1)" text-anchor="end" font-size="6" fill="#222" style="font-family:'Liberation Sans',sans-serif">4</text>
<line x1="49.8" y1="220.46" x2="52.5" y2="220.46" stroke="#111" stroke-width="0.8"/>
<text transform="translate(47.4,222.56) scale(0.92,1)" text-anchor="end" font-size="6" fill="#222" style="font-family:'Liberation Sans',sans-serif">6</text>
<line x1="49.8" y1="211.18" x2="52.5" y2="211.18" stroke="#111" stroke-width="0.8"/>
<text transform="translate(47.4,213.28) scale(0.92,1)" text-anchor="end" font-size="6" fill="#222" style="font-family:'Liberation Sans',sans-serif">8</text>
<line x1="49.8" y1="201.90" x2="52.5" y2="201.90" stroke="#111" stroke-width="0.8"/>
<text transform="translate(47.4,204.00) scale(0.92,1)" text-anchor="end" font-size="6" fill="#222" style="font-family:'Liberation Sans',sans-serif">10</text>
<line x1="49.8" y1="192.62" x2="52.5" y2="192.62" stroke="#111" stroke-width="0.8"/>
<text transform="translate(47.4,194.72) scale(0.92,1)" text-anchor="end" font-size="6" fill="#222" style="font-family:'Liberation Sans',sans-serif">12</text>
<line x1="49.8" y1="183.34" x2="52.5" y2="183.34" stroke="#111" stroke-width="0.8"/>
<text transform="translate(47.4,185.44) scale(0.92,1)" text-anchor="end" font-size="6" fill="#222" style="font-family:'Liberation Sans',sans-serif">14</text>
<line x1="49.8" y1="174.06" x2="52.5" y2="174.06" stroke="#111" stroke-width="0.8"/>
<text transform="translate(47.4,176.16) scale(0.92,1)" text-anchor="end" font-size="6" fill="#222" style="font-family:'Liberation Sans',sans-serif">16</text>
<line x1="49.8" y1="164.78" x2="52.5" y2="164.78" stroke="#111" stroke-width="0.8"/>
<text transform="translate(47.4,166.88) scale(0.92,1)" text-anchor="end" font-size="6" fill="#222" style="font-family:'Liberation Sans',sans-serif">18</text>
<line x1="49.8" y1="155.50" x2="52.5" y2="155.50" stroke="#111" stroke-width="0.8"/>
<text transform="translate(47.4,157.60) scale(0.92,1)" text-anchor="end" font-size="6" fill="#222" style="font-family:'Liberation Sans',sans-serif">20</text>
<line x1="68.10" y1="248.3" x2="68.10" y2="250.10000000000002" stroke="#111" stroke-width="0.8"/>
<line x1="85.70" y1="248.3" x2="85.70" y2="251.20000000000002" stroke="#111" stroke-width="0.8"/>
<text transform="translate(85.70,259.40) scale(0.87,1)" text-anchor="middle" font-size="6.7" fill="#222" style="font-family:'Liberation Sans',sans-serif">20</text>
<line x1="103.30" y1="248.3" x2="103.30" y2="250.10000000000002" stroke="#111" stroke-width="0.8"/>
<line x1="120.90" y1="248.3" x2="120.90" y2="251.20000000000002" stroke="#111" stroke-width="0.8"/>
<text transform="translate(120.90,259.40) scale(0.87,1)" text-anchor="middle" font-size="6.7" fill="#222" style="font-family:'Liberation Sans',sans-serif">40</text>
<line x1="138.50" y1="248.3" x2="138.50" y2="250.10000000000002" stroke="#111" stroke-width="0.8"/>
<line x1="156.10" y1="248.3" x2="156.10" y2="251.20000000000002" stroke="#111" stroke-width="0.8"/>
<text transform="translate(156.10,259.40) scale(0.87,1)" text-anchor="middle" font-size="6.7" fill="#222" style="font-family:'Liberation Sans',sans-serif">60</text>
<line x1="173.70" y1="248.3" x2="173.70" y2="250.10000000000002" stroke="#111" stroke-width="0.8"/>
<line x1="191.30" y1="248.3" x2="191.30" y2="251.20000000000002" stroke="#111" stroke-width="0.8"/>
<text transform="translate(191.30,259.40) scale(0.87,1)" text-anchor="middle" font-size="6.7" fill="#222" style="font-family:'Liberation Sans',sans-serif">80</text>
<line x1="208.90" y1="248.3" x2="208.90" y2="250.10000000000002" stroke="#111" stroke-width="0.8"/>
<line x1="226.50" y1="248.3" x2="226.50" y2="251.20000000000002" stroke="#111" stroke-width="0.8"/>
<text transform="translate(226.50,259.40) scale(0.87,1)" text-anchor="middle" font-size="6.7" fill="#222" style="font-family:'Liberation Sans',sans-serif">100</text>
<line x1="244.10" y1="248.3" x2="244.10" y2="250.10000000000002" stroke="#111" stroke-width="0.8"/>
<line x1="261.70" y1="248.3" x2="261.70" y2="251.20000000000002" stroke="#111" stroke-width="0.8"/>
<text transform="translate(261.70,259.40) scale(0.87,1)" text-anchor="middle" font-size="6.7" fill="#222" style="font-family:'Liberation Sans',sans-serif">120</text>
<line x1="279.30" y1="248.3" x2="279.30" y2="250.10000000000002" stroke="#111" stroke-width="0.8"/>
<line x1="296.90" y1="248.3" x2="296.90" y2="251.20000000000002" stroke="#111" stroke-width="0.8"/>
<text transform="translate(296.90,259.40) scale(0.87,1)" text-anchor="middle" font-size="6.7" fill="#222" style="font-family:'Liberation Sans',sans-serif">140</text>
<polyline points="64.7,233.0 66.6,216.3 68.4,218.3 70.3,244.4 73.5,197.6 75.2,194.0 77.1,189.2 79.0,184.0 80.8,194.0 82.6,193.6 84.5,192.1 86.2,197.0 91.0,200.9 93.0,191.4 94.7,200.9 96.6,192.9 98.4,208.3 100.1,200.5 102.0,197.5 103.5,202.4 105.4,215.6 107.3,200.2 108.8,195.0 110.6,191.4 112.5,197.3 114.2,198.4 115.8,195.0 117.6,192.1 119.4,181.1 121.0,192.1 122.7,192.6 124.5,190.7 126.4,175.0 128.3,195.8 131.8,198.0 133.7,189.9 135.9,196.5 138.4,192.9 140.3,201.7 142.5,196.5 144.3,192.1 146.2,198.7 148.4,199.5 150.6,193.6 152.8,188.5 154.8,192.1 156.6,192.1 158.5,192.1 160.0,186.7 162.0,191.4 163.9,186.7 165.7,191.4 167.2,219.3 168.6,203.9 170.2,192.1 172.0,187.0 173.8,194.3 175.7,193.6 179.3,213.4 184.5,192.9 186.4,198.7 188.1,187.0 189.9,195.0 193.3,213.4 196.6,183.3 204.1,198.3 205.9,191.7 210.6,201.6 212.9,192.8 214.7,196.8 216.1,185.8 217.9,179.9 219.8,183.6 221.7,192.4 223.5,193.1 226.4,192.4 230.1,197.5 232.0,204.9 233.7,192.4 235.5,165.6 237.4,183.6 238.9,193.9 242.5,192.8 253.3,193.0 255.2,194.8 256.9,197.5 258.5,197.8 260.4,184.2 262.3,188.6 264.1,208.4 265.5,193.7 267.3,204.7 268.9,190.1 271.1,196.7 275.8,198.9 278.0,192.6 279.8,201.8 281.7,198.1 283.4,173.9 285.3,191.5 286.8,213.5 288.2,240.1 290.2,224.6 291.8,240.4 293.8,237.0 295.6,241.0 297.6,241.7" fill="none" stroke="#c4475c" stroke-width="0.9"/>
<path d="M73.5,195.0V200.2" stroke="#111" stroke-width="0.75" fill="none"/><path d="M71.9,195.0H75.1M71.9,200.2H75.1" stroke="#111" stroke-width="1.1" fill="none"/>
<path d="M75.2,191.4V196.6" stroke="#111" stroke-width="0.75" fill="none"/><path d="M73.6,191.4H76.8M73.6,196.6H76.8" stroke="#111" stroke-width="1.1" fill="none"/>
<path d="M77.1,186.6V191.8" stroke="#111" stroke-width="0.75" fill="none"/><path d="M75.5,186.6H78.7M75.5,191.8H78.7" stroke="#111" stroke-width="1.1" fill="none"/>
<path d="M79.0,181.4V186.6" stroke="#111" stroke-width="0.75" fill="none"/><path d="M77.4,181.4H80.6M77.4,186.6H80.6" stroke="#111" stroke-width="1.1" fill="none"/>
<path d="M80.8,191.4V196.6" stroke="#111" stroke-width="0.75" fill="none"/><path d="M79.2,191.4H82.4M79.2,196.6H82.4" stroke="#111" stroke-width="1.1" fill="none"/>
<path d="M82.6,191.0V196.2" stroke="#111" stroke-width="0.75" fill="none"/><path d="M81.0,191.0H84.2M81.0,196.2H84.2" stroke="#111" stroke-width="1.1" fill="none"/>
<path d="M84.5,189.5V194.7" stroke="#111" stroke-width="0.75" fill="none"/><path d="M82.9,189.5H86.1M82.9,194.7H86.1" stroke="#111" stroke-width="1.1" fill="none"/>
<path d="M86.2,194.4V199.6" stroke="#111" stroke-width="0.75" fill="none"/><path d="M84.6,194.4H87.8M84.6,199.6H87.8" stroke="#111" stroke-width="1.1" fill="none"/>
<path d="M91.0,198.3V203.5" stroke="#111" stroke-width="0.75" fill="none"/><path d="M89.4,198.3H92.6M89.4,203.5H92.6" stroke="#111" stroke-width="1.1" fill="none"/>
<path d="M93.0,188.8V194.0" stroke="#111" stroke-width="0.75" fill="none"/><path d="M91.4,188.8H94.6M91.4,194.0H94.6" stroke="#111" stroke-width="1.1" fill="none"/>
<path d="M94.7,198.3V203.5" stroke="#111" stroke-width="0.75" fill="none"/><path d="M93.1,198.3H96.3M93.1,203.5H96.3" stroke="#111" stroke-width="1.1" fill="none"/>
<path d="M96.6,190.3V195.5" stroke="#111" stroke-width="0.75" fill="none"/><path d="M95.0,190.3H98.2M95.0,195.5H98.2" stroke="#111" stroke-width="1.1" fill="none"/>
<path d="M98.4,205.7V210.9" stroke="#111" stroke-width="0.75" fill="none"/><path d="M96.8,205.7H100.0M96.8,210.9H100.0" stroke="#111" stroke-width="1.1" fill="none"/>
<path d="M100.1,197.9V203.1" stroke="#111" stroke-width="0.75" fill="none"/><path d="M98.5,197.9H101.7M98.5,203.1H101.7" stroke="#111" stroke-width="1.1" fill="none"/>
<path d="M102.0,194.9V200.1" stroke="#111" stroke-width="0.75" fill="none"/><path d="M100.4,194.9H103.6M100.4,200.1H103.6" stroke="#111" stroke-width="1.1" fill="none"/>
<path d="M103.5,199.8V205.0" stroke="#111" stroke-width="0.75" fill="none"/><path d="M101.9,199.8H105.1M101.9,205.0H105.1" stroke="#111" stroke-width="1.1" fill="none"/>
<path d="M105.4,213.0V218.2" stroke="#111" stroke-width="0.75" fill="none"/><path d="M103.8,213.0H107.0M103.8,218.2H107.0" stroke="#111" stroke-width="1.1" fill="none"/>
<path d="M107.3,197.6V202.8" stroke="#111" stroke-width="0.75" fill="none"/><path d="M105.7,197.6H108.9M105.7,202.8H108.9" stroke="#111" stroke-width="1.1" fill="none"/>
<path d="M108.8,192.4V197.6" stroke="#111" stroke-width="0.75" fill="none"/><path d="M107.2,192.4H110.4M107.2,197.6H110.4" stroke="#111" stroke-width="1.1" fill="none"/>
<path d="M110.6,188.8V194.0" stroke="#111" stroke-width="0.75" fill="none"/><path d="M109.0,188.8H112.2M109.0,194.0H112.2" stroke="#111" stroke-width="1.1" fill="none"/>
<path d="M112.5,194.7V199.9" stroke="#111" stroke-width="0.75" fill="none"/><path d="M110.9,194.7H114.1M110.9,199.9H114.1" stroke="#111" stroke-width="1.1" fill="none"/>
<path d="M114.2,195.8V201.0" stroke="#111" stroke-width="0.75" fill="none"/><path d="M112.6,195.8H115.8M112.6,201.0H115.8" stroke="#111" stroke-width="1.1" fill="none"/>
<path d="M115.8,192.4V197.6" stroke="#111" stroke-width="0.75" fill="none"/><path d="M114.2,192.4H117.4M114.2,197.6H117.4" stroke="#111" stroke-width="1.1" fill="none"/>
<path d="M117.6,189.5V194.7" stroke="#111" stroke-width="0.75" fill="none"/><path d="M116.0,189.5H119.2M116.0,194.7H119.2" stroke="#111" stroke-width="1.1" fill="none"/>
<path d="M119.4,178.5V183.7" stroke="#111" stroke-width="0.75" fill="none"/><path d="M117.8,178.5H121.0M117.8,183.7H121.0" stroke="#111" stroke-width="1.1" fill="none"/>
<path d="M121.0,189.5V194.7" stroke="#111" stroke-width="0.75" fill="none"/><path d="M119.4,189.5H122.6M119.4,194.7H122.6" stroke="#111" stroke-width="1.1" fill="none"/>
<path d="M122.7,190.0V195.2" stroke="#111" stroke-width="0.75" fill="none"/><path d="M121.1,190.0H124.3M121.1,195.2H124.3" stroke="#111" stroke-width="1.1" fill="none"/>
<path d="M124.5,188.1V193.3" stroke="#111" stroke-width="0.75" fill="none"/><path d="M122.9,188.1H126.1M122.9,193.3H126.1" stroke="#111" stroke-width="1.1" fill="none"/>
<path d="M126.4,172.4V177.6" stroke="#111" stroke-width="0.75" fill="none"/><path d="M124.8,172.4H128.0M124.8,177.6H128.0" stroke="#111" stroke-width="1.1" fill="none"/>
<path d="M128.3,193.2V198.4" stroke="#111" stroke-width="0.75" fill="none"/><path d="M126.7,193.2H129.9M126.7,198.4H129.9" stroke="#111" stroke-width="1.1" fill="none"/>
<path d="M131.8,195.4V200.6" stroke="#111" stroke-width="0.75" fill="none"/><path d="M130.2,195.4H133.4M130.2,200.6H133.4" stroke="#111" stroke-width="1.1" fill="none"/>
<path d="M133.7,187.3V192.5" stroke="#111" stroke-width="0.75" fill="none"/><path d="M132.1,187.3H135.3M132.1,192.5H135.3" stroke="#111" stroke-width="1.1" fill="none"/>
<path d="M135.9,193.9V199.1" stroke="#111" stroke-width="0.75" fill="none"/><path d="M134.3,193.9H137.5M134.3,199.1H137.5" stroke="#111" stroke-width="1.1" fill="none"/>
<path d="M138.4,190.3V195.5" stroke="#111" stroke-width="0.75" fill="none"/><path d="M136.8,190.3H140.0M136.8,195.5H140.0" stroke="#111" stroke-width="1.1" fill="none"/>
<path d="M140.3,199.1V204.3" stroke="#111" stroke-width="0.75" fill="none"/><path d="M138.7,199.1H141.9M138.7,204.3H141.9" stroke="#111" stroke-width="1.1" fill="none"/>
<path d="M142.5,193.9V199.1" stroke="#111" stroke-width="0.75" fill="none"/><path d="M140.9,193.9H144.1M140.9,199.1H144.1" stroke="#111" stroke-width="1.1" fill="none"/>
<path d="M144.3,189.5V194.7" stroke="#111" stroke-width="0.75" fill="none"/><path d="M142.7,189.5H145.9M142.7,194.7H145.9" stroke="#111" stroke-width="1.1" fill="none"/>
<path d="M146.2,196.1V201.3" stroke="#111" stroke-width="0.75" fill="none"/><path d="M144.6,196.1H147.8M144.6,201.3H147.8" stroke="#111" stroke-width="1.1" fill="none"/>
<path d="M148.4,196.9V202.1" stroke="#111" stroke-width="0.75" fill="none"/><path d="M146.8,196.9H150.0M146.8,202.1H150.0" stroke="#111" stroke-width="1.1" fill="none"/>
<path d="M150.6,191.0V196.2" stroke="#111" stroke-width="0.75" fill="none"/><path d="M149.0,191.0H152.2M149.0,196.2H152.2" stroke="#111" stroke-width="1.1" fill="none"/>
<path d="M152.8,185.9V191.1" stroke="#111" stroke-width="0.75" fill="none"/><path d="M151.2,185.9H154.4M151.2,191.1H154.4" stroke="#111" stroke-width="1.1" fill="none"/>
<path d="M154.8,189.5V194.7" stroke="#111" stroke-width="0.75" fill="none"/><path d="M153.2,189.5H156.4M153.2,194.7H156.4" stroke="#111" stroke-width="1.1" fill="none"/>
<path d="M156.6,189.5V194.7" stroke="#111" stroke-width="0.75" fill="none"/><path d="M155.0,189.5H158.2M155.0,194.7H158.2" stroke="#111" stroke-width="1.1" fill="none"/>
<path d="M158.5,189.5V194.7" stroke="#111" stroke-width="0.75" fill="none"/><path d="M156.9,189.5H160.1M156.9,194.7H160.1" stroke="#111" stroke-width="1.1" fill="none"/>
<path d="M160.0,184.1V189.3" stroke="#111" stroke-width="0.75" fill="none"/><path d="M158.4,184.1H161.6M158.4,189.3H161.6" stroke="#111" stroke-width="1.1" fill="none"/>
<path d="M162.0,188.8V194.0" stroke="#111" stroke-width="0.75" fill="none"/><path d="M160.4,188.8H163.6M160.4,194.0H163.6" stroke="#111" stroke-width="1.1" fill="none"/>
<path d="M163.9,184.1V189.3" stroke="#111" stroke-width="0.75" fill="none"/><path d="M162.3,184.1H165.5M162.3,189.3H165.5" stroke="#111" stroke-width="1.1" fill="none"/>
<path d="M165.7,188.8V194.0" stroke="#111" stroke-width="0.75" fill="none"/><path d="M164.1,188.8H167.3M164.1,194.0H167.3" stroke="#111" stroke-width="1.1" fill="none"/>
<path d="M167.2,216.7V221.9" stroke="#111" stroke-width="0.75" fill="none"/><path d="M165.6,216.7H168.8M165.6,221.9H168.8" stroke="#111" stroke-width="1.1" fill="none"/>
<path d="M168.6,201.3V206.5" stroke="#111" stroke-width="0.75" fill="none"/><path d="M167.0,201.3H170.2M167.0,206.5H170.2" stroke="#111" stroke-width="1.1" fill="none"/>
<path d="M170.2,189.5V194.7" stroke="#111" stroke-width="0.75" fill="none"/><path d="M168.6,189.5H171.8M168.6,194.7H171.8" stroke="#111" stroke-width="1.1" fill="none"/>
<path d="M172.0,184.4V189.6" stroke="#111" stroke-width="0.75" fill="none"/><path d="M170.4,184.4H173.6M170.4,189.6H173.6" stroke="#111" stroke-width="1.1" fill="none"/>
<path d="M173.8,191.7V196.9" stroke="#111" stroke-width="0.75" fill="none"/><path d="M172.2,191.7H175.4M172.2,196.9H175.4" stroke="#111" stroke-width="1.1" fill="none"/>
<path d="M175.7,191.0V196.2" stroke="#111" stroke-width="0.75" fill="none"/><path d="M174.1,191.0H177.3M174.1,196.2H177.3" stroke="#111" stroke-width="1.1" fill="none"/>
<path d="M179.3,210.8V216.0" stroke="#111" stroke-width="0.75" fill="none"/><path d="M177.7,210.8H180.9M177.7,216.0H180.9" stroke="#111" stroke-width="1.1" fill="none"/>
<path d="M184.5,190.3V195.5" stroke="#111" stroke-width="0.75" fill="none"/><path d="M182.9,190.3H186.1M182.9,195.5H186.1" stroke="#111" stroke-width="1.1" fill="none"/>
<path d="M186.4,196.1V201.3" stroke="#111" stroke-width="0.75" fill="none"/><path d="M184.8,196.1H188.0M184.8,201.3H188.0" stroke="#111" stroke-width="1.1" fill="none"/>
<path d="M188.1,184.4V189.6" stroke="#111" stroke-width="0.75" fill="none"/><path d="M186.5,184.4H189.7M186.5,189.6H189.7" stroke="#111" stroke-width="1.1" fill="none"/>
<path d="M189.9,192.4V197.6" stroke="#111" stroke-width="0.75" fill="none"/><path d="M188.3,192.4H191.5M188.3,197.6H191.5" stroke="#111" stroke-width="1.1" fill="none"/>
<path d="M193.3,210.8V216.0" stroke="#111" stroke-width="0.75" fill="none"/><path d="M191.7,210.8H194.9M191.7,216.0H194.9" stroke="#111" stroke-width="1.1" fill="none"/>
<path d="M196.6,180.7V185.9" stroke="#111" stroke-width="0.75" fill="none"/><path d="M195.0,180.7H198.2M195.0,185.9H198.2" stroke="#111" stroke-width="1.1" fill="none"/>
<path d="M204.1,195.7V200.9" stroke="#111" stroke-width="0.75" fill="none"/><path d="M202.5,195.7H205.7M202.5,200.9H205.7" stroke="#111" stroke-width="1.1" fill="none"/>
<path d="M205.9,189.1V194.3" stroke="#111" stroke-width="0.75" fill="none"/><path d="M204.3,189.1H207.5M204.3,194.3H207.5" stroke="#111" stroke-width="1.1" fill="none"/>
<path d="M210.6,199.0V204.2" stroke="#111" stroke-width="0.75" fill="none"/><path d="M209.0,199.0H212.2M209.0,204.2H212.2" stroke="#111" stroke-width="1.1" fill="none"/>
<path d="M212.9,190.2V195.4" stroke="#111" stroke-width="0.75" fill="none"/><path d="M211.3,190.2H214.5M211.3,195.4H214.5" stroke="#111" stroke-width="1.1" fill="none"/>
<path d="M214.7,194.2V199.4" stroke="#111" stroke-width="0.75" fill="none"/><path d="M213.1,194.2H216.3M213.1,199.4H216.3" stroke="#111" stroke-width="1.1" fill="none"/>
<path d="M216.1,183.2V188.4" stroke="#111" stroke-width="0.75" fill="none"/><path d="M214.5,183.2H217.7M214.5,188.4H217.7" stroke="#111" stroke-width="1.1" fill="none"/>
<path d="M217.9,177.3V182.5" stroke="#111" stroke-width="0.75" fill="none"/><path d="M216.3,177.3H219.5M216.3,182.5H219.5" stroke="#111" stroke-width="1.1" fill="none"/>
<path d="M219.8,181.0V186.2" stroke="#111" stroke-width="0.75" fill="none"/><path d="M218.2,181.0H221.4M218.2,186.2H221.4" stroke="#111" stroke-width="1.1" fill="none"/>
<path d="M221.7,189.8V195.0" stroke="#111" stroke-width="0.75" fill="none"/><path d="M220.1,189.8H223.3M220.1,195.0H223.3" stroke="#111" stroke-width="1.1" fill="none"/>
<path d="M223.5,190.5V195.7" stroke="#111" stroke-width="0.75" fill="none"/><path d="M221.9,190.5H225.1M221.9,195.7H225.1" stroke="#111" stroke-width="1.1" fill="none"/>
<path d="M226.4,189.8V195.0" stroke="#111" stroke-width="0.75" fill="none"/><path d="M224.8,189.8H228.0M224.8,195.0H228.0" stroke="#111" stroke-width="1.1" fill="none"/>
<path d="M230.1,194.9V200.1" stroke="#111" stroke-width="0.75" fill="none"/><path d="M228.5,194.9H231.7M228.5,200.1H231.7" stroke="#111" stroke-width="1.1" fill="none"/>
<path d="M232.0,202.3V207.5" stroke="#111" stroke-width="0.75" fill="none"/><path d="M230.4,202.3H233.6M230.4,207.5H233.6" stroke="#111" stroke-width="1.1" fill="none"/>
<path d="M233.7,189.8V195.0" stroke="#111" stroke-width="0.75" fill="none"/><path d="M232.1,189.8H235.3M232.1,195.0H235.3" stroke="#111" stroke-width="1.1" fill="none"/>
<path d="M235.5,163.0V168.2" stroke="#111" stroke-width="0.75" fill="none"/><path d="M233.9,163.0H237.1M233.9,168.2H237.1" stroke="#111" stroke-width="1.1" fill="none"/>
<path d="M237.4,181.0V186.2" stroke="#111" stroke-width="0.75" fill="none"/><path d="M235.8,181.0H239.0M235.8,186.2H239.0" stroke="#111" stroke-width="1.1" fill="none"/>
<path d="M238.9,191.3V196.5" stroke="#111" stroke-width="0.75" fill="none"/><path d="M237.3,191.3H240.5M237.3,196.5H240.5" stroke="#111" stroke-width="1.1" fill="none"/>
<path d="M242.5,190.2V195.4" stroke="#111" stroke-width="0.75" fill="none"/><path d="M240.9,190.2H244.1M240.9,195.4H244.1" stroke="#111" stroke-width="1.1" fill="none"/>
<path d="M253.3,190.4V195.6" stroke="#111" stroke-width="0.75" fill="none"/><path d="M251.7,190.4H254.9M251.7,195.6H254.9" stroke="#111" stroke-width="1.1" fill="none"/>
<path d="M255.2,192.2V197.4" stroke="#111" stroke-width="0.75" fill="none"/><path d="M253.6,192.2H256.8M253.6,197.4H256.8" stroke="#111" stroke-width="1.1" fill="none"/>
<path d="M256.9,194.9V200.1" stroke="#111" stroke-width="0.75" fill="none"/><path d="M255.3,194.9H258.5M255.3,200.1H258.5" stroke="#111" stroke-width="1.1" fill="none"/>
<path d="M258.5,195.2V200.4" stroke="#111" stroke-width="0.75" fill="none"/><path d="M256.9,195.2H260.1M256.9,200.4H260.1" stroke="#111" stroke-width="1.1" fill="none"/>
<path d="M260.4,181.6V186.8" stroke="#111" stroke-width="0.75" fill="none"/><path d="M258.8,181.6H262.0M258.8,186.8H262.0" stroke="#111" stroke-width="1.1" fill="none"/>
<path d="M262.3,186.0V191.2" stroke="#111" stroke-width="0.75" fill="none"/><path d="M260.7,186.0H263.9M260.7,191.2H263.9" stroke="#111" stroke-width="1.1" fill="none"/>
<path d="M264.1,205.8V211.0" stroke="#111" stroke-width="0.75" fill="none"/><path d="M262.5,205.8H265.7M262.5,211.0H265.7" stroke="#111" stroke-width="1.1" fill="none"/>
<path d="M265.5,191.1V196.3" stroke="#111" stroke-width="0.75" fill="none"/><path d="M263.9,191.1H267.1M263.9,196.3H267.1" stroke="#111" stroke-width="1.1" fill="none"/>
<path d="M267.3,202.1V207.3" stroke="#111" stroke-width="0.75" fill="none"/><path d="M265.7,202.1H268.9M265.7,207.3H268.9" stroke="#111" stroke-width="1.1" fill="none"/>
<path d="M268.9,187.5V192.7" stroke="#111" stroke-width="0.75" fill="none"/><path d="M267.3,187.5H270.5M267.3,192.7H270.5" stroke="#111" stroke-width="1.1" fill="none"/>
<path d="M271.1,194.1V199.3" stroke="#111" stroke-width="0.75" fill="none"/><path d="M269.5,194.1H272.7M269.5,199.3H272.7" stroke="#111" stroke-width="1.1" fill="none"/>
<path d="M275.8,196.3V201.5" stroke="#111" stroke-width="0.75" fill="none"/><path d="M274.2,196.3H277.4M274.2,201.5H277.4" stroke="#111" stroke-width="1.1" fill="none"/>
<path d="M278.0,190.0V195.2" stroke="#111" stroke-width="0.75" fill="none"/><path d="M276.4,190.0H279.6M276.4,195.2H279.6" stroke="#111" stroke-width="1.1" fill="none"/>
<path d="M279.8,199.2V204.4" stroke="#111" stroke-width="0.75" fill="none"/><path d="M278.2,199.2H281.4M278.2,204.4H281.4" stroke="#111" stroke-width="1.1" fill="none"/>
<path d="M281.7,195.5V200.7" stroke="#111" stroke-width="0.75" fill="none"/><path d="M280.1,195.5H283.3M280.1,200.7H283.3" stroke="#111" stroke-width="1.1" fill="none"/>
<path d="M283.4,171.3V176.5" stroke="#111" stroke-width="0.75" fill="none"/><path d="M281.8,171.3H285.0M281.8,176.5H285.0" stroke="#111" stroke-width="1.1" fill="none"/>
<path d="M285.3,188.9V194.1" stroke="#111" stroke-width="0.75" fill="none"/><path d="M283.7,188.9H286.9M283.7,194.1H286.9" stroke="#111" stroke-width="1.1" fill="none"/>
<path d="M286.8,210.9V216.1" stroke="#111" stroke-width="0.75" fill="none"/><path d="M285.2,210.9H288.4M285.2,216.1H288.4" stroke="#111" stroke-width="1.1" fill="none"/>
<circle cx="64.7" cy="233.0" r="1.5" fill="#ac1f35" stroke="#8a1528" stroke-width="0.2"/>
<circle cx="66.6" cy="216.3" r="1.5" fill="#ac1f35" stroke="#8a1528" stroke-width="0.2"/>
<circle cx="68.4" cy="218.3" r="1.5" fill="#ac1f35" stroke="#8a1528" stroke-width="0.2"/>
<circle cx="70.3" cy="244.4" r="1.5" fill="#ac1f35" stroke="#8a1528" stroke-width="0.2"/>
<circle cx="73.5" cy="197.6" r="1.5" fill="#ac1f35" stroke="#8a1528" stroke-width="0.2"/>
<circle cx="75.2" cy="194.0" r="1.5" fill="#ac1f35" stroke="#8a1528" stroke-width="0.2"/>
<circle cx="77.1" cy="189.2" r="1.5" fill="#ac1f35" stroke="#8a1528" stroke-width="0.2"/>
<circle cx="79.0" cy="184.0" r="1.5" fill="#ac1f35" stroke="#8a1528" stroke-width="0.2"/>
<circle cx="80.8" cy="194.0" r="1.5" fill="#ac1f35" stroke="#8a1528" stroke-width="0.2"/>
<circle cx="82.6" cy="193.6" r="1.5" fill="#ac1f35" stroke="#8a1528" stroke-width="0.2"/>
<circle cx="84.5" cy="192.1" r="1.5" fill="#ac1f35" stroke="#8a1528" stroke-width="0.2"/>
<circle cx="86.2" cy="197.0" r="1.5" fill="#ac1f35" stroke="#8a1528" stroke-width="0.2"/>
<circle cx="91.0" cy="200.9" r="1.5" fill="#ac1f35" stroke="#8a1528" stroke-width="0.2"/>
<circle cx="93.0" cy="191.4" r="1.5" fill="#ac1f35" stroke="#8a1528" stroke-width="0.2"/>
<circle cx="94.7" cy="200.9" r="1.5" fill="#ac1f35" stroke="#8a1528" stroke-width="0.2"/>
<circle cx="96.6" cy="192.9" r="1.5" fill="#ac1f35" stroke="#8a1528" stroke-width="0.2"/>
<circle cx="98.4" cy="208.3" r="1.5" fill="#ac1f35" stroke="#8a1528" stroke-width="0.2"/>
<circle cx="100.1" cy="200.5" r="1.5" fill="#ac1f35" stroke="#8a1528" stroke-width="0.2"/>
<circle cx="102.0" cy="197.5" r="1.5" fill="#ac1f35" stroke="#8a1528" stroke-width="0.2"/>
<circle cx="103.5" cy="202.4" r="1.5" fill="#ac1f35" stroke="#8a1528" stroke-width="0.2"/>
<circle cx="105.4" cy="215.6" r="1.5" fill="#ac1f35" stroke="#8a1528" stroke-width="0.2"/>
<circle cx="107.3" cy="200.2" r="1.5" fill="#ac1f35" stroke="#8a1528" stroke-width="0.2"/>
<circle cx="108.8" cy="195.0" r="1.5" fill="#ac1f35" stroke="#8a1528" stroke-width="0.2"/>
<circle cx="110.6" cy="191.4" r="1.5" fill="#ac1f35" stroke="#8a1528" stroke-width="0.2"/>
<circle cx="112.5" cy="197.3" r="1.5" fill="#ac1f35" stroke="#8a1528" stroke-width="0.2"/>
<circle cx="114.2" cy="198.4" r="1.5" fill="#ac1f35" stroke="#8a1528" stroke-width="0.2"/>
<circle cx="115.8" cy="195.0" r="1.5" fill="#ac1f35" stroke="#8a1528" stroke-width="0.2"/>
<circle cx="117.6" cy="192.1" r="1.5" fill="#ac1f35" stroke="#8a1528" stroke-width="0.2"/>
<circle cx="119.4" cy="181.1" r="1.5" fill="#ac1f35" stroke="#8a1528" stroke-width="0.2"/>
<circle cx="121.0" cy="192.1" r="1.5" fill="#ac1f35" stroke="#8a1528" stroke-width="0.2"/>
<circle cx="122.7" cy="192.6" r="1.5" fill="#ac1f35" stroke="#8a1528" stroke-width="0.2"/>
<circle cx="124.5" cy="190.7" r="1.5" fill="#ac1f35" stroke="#8a1528" stroke-width="0.2"/>
<circle cx="126.4" cy="175.0" r="1.5" fill="#ac1f35" stroke="#8a1528" stroke-width="0.2"/>
<circle cx="128.3" cy="195.8" r="1.5" fill="#ac1f35" stroke="#8a1528" stroke-width="0.2"/>
<circle cx="131.8" cy="198.0" r="1.5" fill="#ac1f35" stroke="#8a1528" stroke-width="0.2"/>
<circle cx="133.7" cy="189.9" r="1.5" fill="#ac1f35" stroke="#8a1528" stroke-width="0.2"/>
<circle cx="135.9" cy="196.5" r="1.5" fill="#ac1f35" stroke="#8a1528" stroke-width="0.2"/>
<circle cx="138.4" cy="192.9" r="1.5" fill="#ac1f35" stroke="#8a1528" stroke-width="0.2"/>
<circle cx="140.3" cy="201.7" r="1.5" fill="#ac1f35" stroke="#8a1528" stroke-width="0.2"/>
<circle cx="142.5" cy="196.5" r="1.5" fill="#ac1f35" stroke="#8a1528" stroke-width="0.2"/>
<circle cx="144.3" cy="192.1" r="1.5" fill="#ac1f35" stroke="#8a1528" stroke-width="0.2"/>
<circle cx="146.2" cy="198.7" r="1.5" fill="#ac1f35" stroke="#8a1528" stroke-width="0.2"/>
<circle cx="148.4" cy="199.5" r="1.5" fill="#ac1f35" stroke="#8a1528" stroke-width="0.2"/>
<circle cx="150.6" cy="193.6" r="1.5" fill="#ac1f35" stroke="#8a1528" stroke-width="0.2"/>
<circle cx="152.8" cy="188.5" r="1.5" fill="#ac1f35" stroke="#8a1528" stroke-width="0.2"/>
<circle cx="154.8" cy="192.1" r="1.5" fill="#ac1f35" stroke="#8a1528" stroke-width="0.2"/>
<circle cx="156.6" cy="192.1" r="1.5" fill="#ac1f35" stroke="#8a1528" stroke-width="0.2"/>
<circle cx="158.5" cy="192.1" r="1.5" fill="#ac1f35" stroke="#8a1528" stroke-width="0.2"/>
<circle cx="160.0" cy="186.7" r="1.5" fill="#ac1f35" stroke="#8a1528" stroke-width="0.2"/>
<circle cx="162.0" cy="191.4" r="1.5" fill="#ac1f35" stroke="#8a1528" stroke-width="0.2"/>
<circle cx="163.9" cy="186.7" r="1.5" fill="#ac1f35" stroke="#8a1528" stroke-width="0.2"/>
<circle cx="165.7" cy="191.4" r="1.5" fill="#ac1f35" stroke="#8a1528" stroke-width="0.2"/>
<circle cx="167.2" cy="219.3" r="1.5" fill="#ac1f35" stroke="#8a1528" stroke-width="0.2"/>
<circle cx="168.6" cy="203.9" r="1.5" fill="#ac1f35" stroke="#8a1528" stroke-width="0.2"/>
<circle cx="170.2" cy="192.1" r="1.5" fill="#ac1f35" stroke="#8a1528" stroke-width="0.2"/>
<circle cx="172.0" cy="187.0" r="1.5" fill="#ac1f35" stroke="#8a1528" stroke-width="0.2"/>
<circle cx="173.8" cy="194.3" r="1.5" fill="#ac1f35" stroke="#8a1528" stroke-width="0.2"/>
<circle cx="175.7" cy="193.6" r="1.5" fill="#ac1f35" stroke="#8a1528" stroke-width="0.2"/>
<circle cx="179.3" cy="213.4" r="1.5" fill="#ac1f35" stroke="#8a1528" stroke-width="0.2"/>
<circle cx="184.5" cy="192.9" r="1.5" fill="#ac1f35" stroke="#8a1528" stroke-width="0.2"/>
<circle cx="186.4" cy="198.7" r="1.5" fill="#ac1f35" stroke="#8a1528" stroke-width="0.2"/>
<circle cx="188.1" cy="187.0" r="1.5" fill="#ac1f35" stroke="#8a1528" stroke-width="0.2"/>
<circle cx="189.9" cy="195.0" r="1.5" fill="#ac1f35" stroke="#8a1528" stroke-width="0.2"/>
<circle cx="193.3" cy="213.4" r="1.5" fill="#ac1f35" stroke="#8a1528" stroke-width="0.2"/>
<circle cx="196.6" cy="183.3" r="1.5" fill="#ac1f35" stroke="#8a1528" stroke-width="0.2"/>
<circle cx="204.1" cy="198.3" r="1.5" fill="#ac1f35" stroke="#8a1528" stroke-width="0.2"/>
<circle cx="205.9" cy="191.7" r="1.5" fill="#ac1f35" stroke="#8a1528" stroke-width="0.2"/>
<circle cx="210.6" cy="201.6" r="1.5" fill="#ac1f35" stroke="#8a1528" stroke-width="0.2"/>
<circle cx="212.9" cy="192.8" r="1.5" fill="#ac1f35" stroke="#8a1528" stroke-width="0.2"/>
<circle cx="214.7" cy="196.8" r="1.5" fill="#ac1f35" stroke="#8a1528" stroke-width="0.2"/>
<circle cx="216.1" cy="185.8" r="1.5" fill="#ac1f35" stroke="#8a1528" stroke-width="0.2"/>
<circle cx="217.9" cy="179.9" r="1.5" fill="#ac1f35" stroke="#8a1528" stroke-width="0.2"/>
<circle cx="219.8" cy="183.6" r="1.5" fill="#ac1f35" stroke="#8a1528" stroke-width="0.2"/>
<circle cx="221.7" cy="192.4" r="1.5" fill="#ac1f35" stroke="#8a1528" stroke-width="0.2"/>
<circle cx="223.5" cy="193.1" r="1.5" fill="#ac1f35" stroke="#8a1528" stroke-width="0.2"/>
<circle cx="226.4" cy="192.4" r="1.5" fill="#ac1f35" stroke="#8a1528" stroke-width="0.2"/>
<circle cx="230.1" cy="197.5" r="1.5" fill="#ac1f35" stroke="#8a1528" stroke-width="0.2"/>
<circle cx="232.0" cy="204.9" r="1.5" fill="#ac1f35" stroke="#8a1528" stroke-width="0.2"/>
<circle cx="233.7" cy="192.4" r="1.5" fill="#ac1f35" stroke="#8a1528" stroke-width="0.2"/>
<circle cx="235.5" cy="165.6" r="1.5" fill="#ac1f35" stroke="#8a1528" stroke-width="0.2"/>
<circle cx="237.4" cy="183.6" r="1.5" fill="#ac1f35" stroke="#8a1528" stroke-width="0.2"/>
<circle cx="238.9" cy="193.9" r="1.5" fill="#ac1f35" stroke="#8a1528" stroke-width="0.2"/>
<circle cx="242.5" cy="192.8" r="1.5" fill="#ac1f35" stroke="#8a1528" stroke-width="0.2"/>
<circle cx="253.3" cy="193.0" r="1.5" fill="#ac1f35" stroke="#8a1528" stroke-width="0.2"/>
<circle cx="255.2" cy="194.8" r="1.5" fill="#ac1f35" stroke="#8a1528" stroke-width="0.2"/>
<circle cx="256.9" cy="197.5" r="1.5" fill="#ac1f35" stroke="#8a1528" stroke-width="0.2"/>
<circle cx="258.5" cy="197.8" r="1.5" fill="#ac1f35" stroke="#8a1528" stroke-width="0.2"/>
<circle cx="260.4" cy="184.2" r="1.5" fill="#ac1f35" stroke="#8a1528" stroke-width="0.2"/>
<circle cx="262.3" cy="188.6" r="1.5" fill="#ac1f35" stroke="#8a1528" stroke-width="0.2"/>
<circle cx="264.1" cy="208.4" r="1.5" fill="#ac1f35" stroke="#8a1528" stroke-width="0.2"/>
<circle cx="265.5" cy="193.7" r="1.5" fill="#ac1f35" stroke="#8a1528" stroke-width="0.2"/>
<circle cx="267.3" cy="204.7" r="1.5" fill="#ac1f35" stroke="#8a1528" stroke-width="0.2"/>
<circle cx="268.9" cy="190.1" r="1.5" fill="#ac1f35" stroke="#8a1528" stroke-width="0.2"/>
<circle cx="271.1" cy="196.7" r="1.5" fill="#ac1f35" stroke="#8a1528" stroke-width="0.2"/>
<circle cx="275.8" cy="198.9" r="1.5" fill="#ac1f35" stroke="#8a1528" stroke-width="0.2"/>
<circle cx="278.0" cy="192.6" r="1.5" fill="#ac1f35" stroke="#8a1528" stroke-width="0.2"/>
<circle cx="279.8" cy="201.8" r="1.5" fill="#ac1f35" stroke="#8a1528" stroke-width="0.2"/>
<circle cx="281.7" cy="198.1" r="1.5" fill="#ac1f35" stroke="#8a1528" stroke-width="0.2"/>
<circle cx="283.4" cy="173.9" r="1.5" fill="#ac1f35" stroke="#8a1528" stroke-width="0.2"/>
<circle cx="285.3" cy="191.5" r="1.5" fill="#ac1f35" stroke="#8a1528" stroke-width="0.2"/>
<circle cx="286.8" cy="213.5" r="1.5" fill="#ac1f35" stroke="#8a1528" stroke-width="0.2"/>
<circle cx="288.2" cy="240.1" r="1.5" fill="#ac1f35" stroke="#8a1528" stroke-width="0.2"/>
<circle cx="290.2" cy="224.6" r="1.5" fill="#ac1f35" stroke="#8a1528" stroke-width="0.2"/>
<circle cx="291.8" cy="240.4" r="1.5" fill="#ac1f35" stroke="#8a1528" stroke-width="0.2"/>
<circle cx="293.8" cy="237.0" r="1.5" fill="#ac1f35" stroke="#8a1528" stroke-width="0.2"/>
<circle cx="295.6" cy="241.0" r="1.5" fill="#ac1f35" stroke="#8a1528" stroke-width="0.2"/>
<circle cx="297.6" cy="241.7" r="1.5" fill="#ac1f35" stroke="#8a1528" stroke-width="0.2"/>
<text transform="translate(110.3,177.2) scale(0.93,1)" font-size="5.6" fill="#333" style="font-family:'Liberation Sans',sans-serif">K39</text>
<text transform="translate(130,175.7) scale(0.93,1)" font-size="5.6" fill="#333" style="font-family:'Liberation Sans',sans-serif">C43</text>
<text transform="translate(103,224.4) scale(0.93,1)" font-size="5.6" fill="#333" style="font-family:'Liberation Sans',sans-serif">G31</text>
<text transform="translate(190.6,179.4) scale(0.93,1)" font-size="5.6" fill="#333" style="font-family:'Liberation Sans',sans-serif">G83</text>
<text transform="translate(175.2,221.2) scale(0.93,1)" font-size="5.6" fill="#333" style="font-family:'Liberation Sans',sans-serif">K73</text>
<text transform="translate(205.9,184.5) scale(0.93,1)" font-size="5.6" fill="#333" style="font-family:'Liberation Sans',sans-serif">Y94</text>
<text transform="translate(212.9,174.8) scale(0.93,1)" font-size="5.6" fill="#333" style="font-family:'Liberation Sans',sans-serif">D95</text>
<text transform="translate(222.3,184) scale(0.93,1)" font-size="5.6" fill="#333" style="font-family:'Liberation Sans',sans-serif">T96</text>
<text transform="translate(237.8,167.9) scale(0.93,1)" font-size="5.6" fill="#333" style="font-family:'Liberation Sans',sans-serif">T105</text>
<text transform="translate(240.8,185.1) scale(0.93,1)" font-size="5.6" fill="#333" style="font-family:'Liberation Sans',sans-serif">Y106</text>
<text transform="translate(258.2,179.2) scale(0.93,1)" font-size="5.6" fill="#333" style="font-family:'Liberation Sans',sans-serif">E119</text>
<rect x="101.3" y="277" width="7.30" height="98.50" fill="#c9c3c6"/>
<rect x="116.6" y="277" width="11.30" height="98.50" fill="#c9c3c6"/>
<rect x="163.9" y="277" width="7.00" height="98.50" fill="#c9c3c6"/>
<rect x="175.6" y="277" width="6.60" height="98.50" fill="#c9c3c6"/>
<rect x="190.4" y="277" width="6.60" height="98.50" fill="#c9c3c6"/>
<rect x="211.6" y="277" width="11.70" height="98.50" fill="#c9c3c6"/>
<rect x="227.9" y="277" width="11.70" height="98.50" fill="#c9c3c6"/>
<rect x="258" y="277" width="6.60" height="98.50" fill="#c9c3c6"/>
<line x1="53.7" y1="297.7" x2="295" y2="297.7" stroke="#333" stroke-width="0.85" stroke-dasharray="2.6,1.6"/>
<line x1="52.5" y1="279.5" x2="52.5" y2="376.0" stroke="#111" stroke-width="1"/>
<line x1="52" y1="375.5" x2="305.9" y2="375.5" stroke="#111" stroke-width="1"/>
<line x1="49.8" y1="371.70" x2="52.5" y2="371.70" stroke="#111" stroke-width="0.8"/>
<text transform="translate(47.4,373.80) scale(0.92,1)" text-anchor="end" font-size="6" fill="#222" style="font-family:'Liberation Sans',sans-serif">-1.4</text>
<line x1="49.8" y1="364.30" x2="52.5" y2="364.30" stroke="#111" stroke-width="0.8"/>
<text transform="translate(47.4,366.40) scale(0.92,1)" text-anchor="end" font-size="6" fill="#222" style="font-family:'Liberation Sans',sans-serif">-1.2</text>
<line x1="49.8" y1="356.90" x2="52.5" y2="356.90" stroke="#111" stroke-width="0.8"/>
<text transform="translate(47.4,359.00) scale(0.92,1)" text-anchor="end" font-size="6" fill="#222" style="font-family:'Liberation Sans',sans-serif">-1.0</text>
<line x1="49.8" y1="349.50" x2="52.5" y2="349.50" stroke="#111" stroke-width="0.8"/>
<text transform="translate(47.4,351.60) scale(0.92,1)" text-anchor="end" font-size="6" fill="#222" style="font-family:'Liberation Sans',sans-serif">-0.8</text>
<line x1="49.8" y1="342.10" x2="52.5" y2="342.10" stroke="#111" stroke-width="0.8"/>
<text transform="translate(47.4,344.20) scale(0.92,1)" text-anchor="end" font-size="6" fill="#222" style="font-family:'Liberation Sans',sans-serif">-0.6</text>
<line x1="49.8" y1="334.70" x2="52.5" y2="334.70" stroke="#111" stroke-width="0.8"/>
<text transform="translate(47.4,336.80) scale(0.92,1)" text-anchor="end" font-size="6" fill="#222" style="font-family:'Liberation Sans',sans-serif">-0.4</text>
<line x1="49.8" y1="327.30" x2="52.5" y2="327.30" stroke="#111" stroke-width="0.8"/>
<text transform="translate(47.4,329.40) scale(0.92,1)" text-anchor="end" font-size="6" fill="#222" style="font-family:'Liberation Sans',sans-serif">-0.2</text>
<line x1="49.8" y1="319.90" x2="52.5" y2="319.90" stroke="#111" stroke-width="0.8"/>
<text transform="translate(47.4,322.00) scale(0.92,1)" text-anchor="end" font-size="6" fill="#222" style="font-family:'Liberation Sans',sans-serif">0.0</text>
<line x1="49.8" y1="312.50" x2="52.5" y2="312.50" stroke="#111" stroke-width="0.8"/>
<text transform="translate(47.4,314.60) scale(0.92,1)" text-anchor="end" font-size="6" fill="#222" style="font-family:'Liberation Sans',sans-serif">0.2</text>
<line x1="49.8" y1="305.10" x2="52.5" y2="305.10" stroke="#111" stroke-width="0.8"/>
<text transform="translate(47.4,307.20) scale(0.92,1)" text-anchor="end" font-size="6" fill="#222" style="font-family:'Liberation Sans',sans-serif">0.4</text>
<line x1="49.8" y1="297.70" x2="52.5" y2="297.70" stroke="#111" stroke-width="0.8"/>
<text transform="translate(47.4,299.80) scale(0.92,1)" text-anchor="end" font-size="6" fill="#222" style="font-family:'Liberation Sans',sans-serif">0.6</text>
<line x1="49.8" y1="290.30" x2="52.5" y2="290.30" stroke="#111" stroke-width="0.8"/>
<text transform="translate(47.4,292.40) scale(0.92,1)" text-anchor="end" font-size="6" fill="#222" style="font-family:'Liberation Sans',sans-serif">0.8</text>
<line x1="49.8" y1="282.90" x2="52.5" y2="282.90" stroke="#111" stroke-width="0.8"/>
<text transform="translate(47.4,285.00) scale(0.92,1)" text-anchor="end" font-size="6" fill="#222" style="font-family:'Liberation Sans',sans-serif">1.0</text>
<line x1="68.41" y1="375.5" x2="68.41" y2="377.3" stroke="#111" stroke-width="0.8"/>
<line x1="85.72" y1="375.5" x2="85.72" y2="378.4" stroke="#111" stroke-width="0.8"/>
<text transform="translate(85.72,387.70) scale(0.87,1)" text-anchor="middle" font-size="6.7" fill="#222" style="font-family:'Liberation Sans',sans-serif">20</text>
<line x1="103.03" y1="375.5" x2="103.03" y2="377.3" stroke="#111" stroke-width="0.8"/>
<line x1="120.34" y1="375.5" x2="120.34" y2="378.4" stroke="#111" stroke-width="0.8"/>
<text transform="translate(120.34,387.70) scale(0.87,1)" text-anchor="middle" font-size="6.7" fill="#222" style="font-family:'Liberation Sans',sans-serif">40</text>
<line x1="137.65" y1="375.5" x2="137.65" y2="377.3" stroke="#111" stroke-width="0.8"/>
<line x1="154.96" y1="375.5" x2="154.96" y2="378.4" stroke="#111" stroke-width="0.8"/>
<text transform="translate(154.96,387.70) scale(0.87,1)" text-anchor="middle" font-size="6.7" fill="#222" style="font-family:'Liberation Sans',sans-serif">60</text>
<line x1="172.27" y1="375.5" x2="172.27" y2="377.3" stroke="#111" stroke-width="0.8"/>
<line x1="189.58" y1="375.5" x2="189.58" y2="378.4" stroke="#111" stroke-width="0.8"/>
<text transform="translate(189.58,387.70) scale(0.87,1)" text-anchor="middle" font-size="6.7" fill="#222" style="font-family:'Liberation Sans',sans-serif">80</text>
<line x1="206.89" y1="375.5" x2="206.89" y2="377.3" stroke="#111" stroke-width="0.8"/>
<line x1="224.20" y1="375.5" x2="224.20" y2="378.4" stroke="#111" stroke-width="0.8"/>
<text transform="translate(224.20,387.70) scale(0.87,1)" text-anchor="middle" font-size="6.7" fill="#222" style="font-family:'Liberation Sans',sans-serif">100</text>
<line x1="241.51" y1="375.5" x2="241.51" y2="377.3" stroke="#111" stroke-width="0.8"/>
<line x1="258.82" y1="375.5" x2="258.82" y2="378.4" stroke="#111" stroke-width="0.8"/>
<text transform="translate(258.82,387.70) scale(0.87,1)" text-anchor="middle" font-size="6.7" fill="#222" style="font-family:'Liberation Sans',sans-serif">120</text>
<line x1="276.13" y1="375.5" x2="276.13" y2="377.3" stroke="#111" stroke-width="0.8"/>
<line x1="293.44" y1="375.5" x2="293.44" y2="378.4" stroke="#111" stroke-width="0.8"/>
<text transform="translate(293.44,387.70) scale(0.87,1)" text-anchor="middle" font-size="6.7" fill="#222" style="font-family:'Liberation Sans',sans-serif">140</text>
<polyline points="58.1,335.4 59.9,368.4 61.8,347.1 63.5,361.0 65.5,353.0 66.9,299.3 68.8,312.8 70.6,305.5 74.0,296.4 75.6,286.9 77.0,283.9 78.8,286.9 82.2,292.0 83.9,297.1 85.8,291.7 91.3,289.8 93.0,292.0 94.9,288.3 96.7,287.6 98.3,294.9 100.1,288.3 102.0,289.1 103.7,289.8 105.2,304.9 107.0,297.9 108.4,292.7 109.9,285.4 112.1,292.7 113.7,288.3 115.5,288.3 117.2,291.3 118.8,289.8 120.6,287.6 122.5,289.1 124.5,291.3 126.1,299.3 131.2,292.7 133.1,278.8 136.0,292.0 137.9,291.7 139.7,289.8 142.3,293.5 144.8,296.1 146.7,289.8 148.5,285.4 150.2,292.0 151.8,286.1 153.9,289.1 155.8,291.3 157.6,286.1 159.2,284.7 160.9,292.0 163.4,287.6 164.6,291.3 166.5,294.2 168.3,289.1 170.7,288.8 172.7,294.6 174.9,292.7 178.0,297.6 183.1,289.5 185.0,290.5 187.5,288.8 189.4,288.8 191.9,289.1 195.2,288.3 202.1,295.7 204.3,294.9 209.0,288.8 210.9,291.7 213.1,290.5 215.3,290.5 217.8,285.8 219.7,290.5 221.6,292.0 223.4,302.6 225.1,294.2 228.6,284.0 230.2,298.0 232.1,290.3 233.8,289.2 235.3,281.4 237.5,284.8 238.9,295.1 240.8,290.7 250.7,285.5 252.1,286.7 254.3,292.1 256.1,288.2 258.0,284.1 259.8,288.5 261.7,289.6 263.4,302.4 264.9,291.4 266.8,285.5 268.5,292.9 270.5,288.8 273.7,296.1 275.6,292.9 277.1,302.4 279.0,295.1 280.4,292.1 282.2,282.3 284.4,298.7 285.7,331.6 288.8,355.0 290.9,348.7 293.2,368.6 294.3,372.6" fill="none" stroke="#c4475c" stroke-width="0.9"/>
<path d="M59.9,366.8V370.0" stroke="#111" stroke-width="0.75" fill="none"/><path d="M58.3,366.8H61.5M58.3,370.0H61.5" stroke="#111" stroke-width="1.1" fill="none"/>
<path d="M61.8,345.5V348.7" stroke="#111" stroke-width="0.75" fill="none"/><path d="M60.2,345.5H63.4M60.2,348.7H63.4" stroke="#111" stroke-width="1.1" fill="none"/>
<path d="M63.5,359.4V362.6" stroke="#111" stroke-width="0.75" fill="none"/><path d="M61.9,359.4H65.1M61.9,362.6H65.1" stroke="#111" stroke-width="1.1" fill="none"/>
<path d="M65.5,351.4V354.6" stroke="#111" stroke-width="0.75" fill="none"/><path d="M63.9,351.4H67.1M63.9,354.6H67.1" stroke="#111" stroke-width="1.1" fill="none"/>
<path d="M66.9,297.7V300.9" stroke="#111" stroke-width="0.75" fill="none"/><path d="M65.3,297.7H68.5M65.3,300.9H68.5" stroke="#111" stroke-width="1.1" fill="none"/>
<path d="M68.8,311.2V314.4" stroke="#111" stroke-width="0.75" fill="none"/><path d="M67.2,311.2H70.4M67.2,314.4H70.4" stroke="#111" stroke-width="1.1" fill="none"/>
<path d="M70.6,303.9V307.1" stroke="#111" stroke-width="0.75" fill="none"/><path d="M69.0,303.9H72.2M69.0,307.1H72.2" stroke="#111" stroke-width="1.1" fill="none"/>
<path d="M74.0,294.8V298.0" stroke="#111" stroke-width="0.75" fill="none"/><path d="M72.4,294.8H75.6M72.4,298.0H75.6" stroke="#111" stroke-width="1.1" fill="none"/>
<path d="M75.6,285.3V288.5" stroke="#111" stroke-width="0.75" fill="none"/><path d="M74.0,285.3H77.2M74.0,288.5H77.2" stroke="#111" stroke-width="1.1" fill="none"/>
<path d="M77.0,282.3V285.5" stroke="#111" stroke-width="0.75" fill="none"/><path d="M75.4,282.3H78.6M75.4,285.5H78.6" stroke="#111" stroke-width="1.1" fill="none"/>
<path d="M78.8,285.3V288.5" stroke="#111" stroke-width="0.75" fill="none"/><path d="M77.2,285.3H80.4M77.2,288.5H80.4" stroke="#111" stroke-width="1.1" fill="none"/>
<path d="M82.2,290.4V293.6" stroke="#111" stroke-width="0.75" fill="none"/><path d="M80.6,290.4H83.8M80.6,293.6H83.8" stroke="#111" stroke-width="1.1" fill="none"/>
<path d="M83.9,295.5V298.7" stroke="#111" stroke-width="0.75" fill="none"/><path d="M82.3,295.5H85.5M82.3,298.7H85.5" stroke="#111" stroke-width="1.1" fill="none"/>
<path d="M85.8,290.1V293.3" stroke="#111" stroke-width="0.75" fill="none"/><path d="M84.2,290.1H87.4M84.2,293.3H87.4" stroke="#111" stroke-width="1.1" fill="none"/>
<path d="M91.3,288.2V291.4" stroke="#111" stroke-width="0.75" fill="none"/><path d="M89.7,288.2H92.9M89.7,291.4H92.9" stroke="#111" stroke-width="1.1" fill="none"/>
<path d="M93.0,290.4V293.6" stroke="#111" stroke-width="0.75" fill="none"/><path d="M91.4,290.4H94.6M91.4,293.6H94.6" stroke="#111" stroke-width="1.1" fill="none"/>
<path d="M94.9,286.7V289.9" stroke="#111" stroke-width="0.75" fill="none"/><path d="M93.3,286.7H96.5M93.3,289.9H96.5" stroke="#111" stroke-width="1.1" fill="none"/>
<path d="M96.7,286.0V289.2" stroke="#111" stroke-width="0.75" fill="none"/><path d="M95.1,286.0H98.3M95.1,289.2H98.3" stroke="#111" stroke-width="1.1" fill="none"/>
<path d="M98.3,293.3V296.5" stroke="#111" stroke-width="0.75" fill="none"/><path d="M96.7,293.3H99.9M96.7,296.5H99.9" stroke="#111" stroke-width="1.1" fill="none"/>
<path d="M100.1,286.7V289.9" stroke="#111" stroke-width="0.75" fill="none"/><path d="M98.5,286.7H101.7M98.5,289.9H101.7" stroke="#111" stroke-width="1.1" fill="none"/>
<path d="M102.0,287.5V290.7" stroke="#111" stroke-width="0.75" fill="none"/><path d="M100.4,287.5H103.6M100.4,290.7H103.6" stroke="#111" stroke-width="1.1" fill="none"/>
<path d="M103.7,288.2V291.4" stroke="#111" stroke-width="0.75" fill="none"/><path d="M102.1,288.2H105.3M102.1,291.4H105.3" stroke="#111" stroke-width="1.1" fill="none"/>
<path d="M105.2,303.3V306.5" stroke="#111" stroke-width="0.75" fill="none"/><path d="M103.6,303.3H106.8M103.6,306.5H106.8" stroke="#111" stroke-width="1.1" fill="none"/>
<path d="M107.0,296.3V299.5" stroke="#111" stroke-width="0.75" fill="none"/><path d="M105.4,296.3H108.6M105.4,299.5H108.6" stroke="#111" stroke-width="1.1" fill="none"/>
<path d="M108.4,291.1V294.3" stroke="#111" stroke-width="0.75" fill="none"/><path d="M106.8,291.1H110.0M106.8,294.3H110.0" stroke="#111" stroke-width="1.1" fill="none"/>
<path d="M109.9,283.8V287.0" stroke="#111" stroke-width="0.75" fill="none"/><path d="M108.3,283.8H111.5M108.3,287.0H111.5" stroke="#111" stroke-width="1.1" fill="none"/>
<path d="M112.1,291.1V294.3" stroke="#111" stroke-width="0.75" fill="none"/><path d="M110.5,291.1H113.7M110.5,294.3H113.7" stroke="#111" stroke-width="1.1" fill="none"/>
<path d="M113.7,286.7V289.9" stroke="#111" stroke-width="0.75" fill="none"/><path d="M112.1,286.7H115.3M112.1,289.9H115.3" stroke="#111" stroke-width="1.1" fill="none"/>
<path d="M115.5,286.7V289.9" stroke="#111" stroke-width="0.75" fill="none"/><path d="M113.9,286.7H117.1M113.9,289.9H117.1" stroke="#111" stroke-width="1.1" fill="none"/>
<path d="M117.2,289.7V292.9" stroke="#111" stroke-width="0.75" fill="none"/><path d="M115.6,289.7H118.8M115.6,292.9H118.8" stroke="#111" stroke-width="1.1" fill="none"/>
<path d="M118.8,288.2V291.4" stroke="#111" stroke-width="0.75" fill="none"/><path d="M117.2,288.2H120.4M117.2,291.4H120.4" stroke="#111" stroke-width="1.1" fill="none"/>
<path d="M120.6,286.0V289.2" stroke="#111" stroke-width="0.75" fill="none"/><path d="M119.0,286.0H122.2M119.0,289.2H122.2" stroke="#111" stroke-width="1.1" fill="none"/>
<path d="M122.5,287.5V290.7" stroke="#111" stroke-width="0.75" fill="none"/><path d="M120.9,287.5H124.1M120.9,290.7H124.1" stroke="#111" stroke-width="1.1" fill="none"/>
<path d="M124.5,289.7V292.9" stroke="#111" stroke-width="0.75" fill="none"/><path d="M122.9,289.7H126.1M122.9,292.9H126.1" stroke="#111" stroke-width="1.1" fill="none"/>
<path d="M126.1,297.7V300.9" stroke="#111" stroke-width="0.75" fill="none"/><path d="M124.5,297.7H127.7M124.5,300.9H127.7" stroke="#111" stroke-width="1.1" fill="none"/>
<path d="M131.2,291.1V294.3" stroke="#111" stroke-width="0.75" fill="none"/><path d="M129.6,291.1H132.8M129.6,294.3H132.8" stroke="#111" stroke-width="1.1" fill="none"/>
<path d="M133.1,277.2V280.4" stroke="#111" stroke-width="0.75" fill="none"/><path d="M131.5,277.2H134.7M131.5,280.4H134.7" stroke="#111" stroke-width="1.1" fill="none"/>
<path d="M136.0,290.4V293.6" stroke="#111" stroke-width="0.75" fill="none"/><path d="M134.4,290.4H137.6M134.4,293.6H137.6" stroke="#111" stroke-width="1.1" fill="none"/>
<path d="M137.9,290.1V293.3" stroke="#111" stroke-width="0.75" fill="none"/><path d="M136.3,290.1H139.5M136.3,293.3H139.5" stroke="#111" stroke-width="1.1" fill="none"/>
<path d="M139.7,288.2V291.4" stroke="#111" stroke-width="0.75" fill="none"/><path d="M138.1,288.2H141.3M138.1,291.4H141.3" stroke="#111" stroke-width="1.1" fill="none"/>
<path d="M142.3,291.9V295.1" stroke="#111" stroke-width="0.75" fill="none"/><path d="M140.7,291.9H143.9M140.7,295.1H143.9" stroke="#111" stroke-width="1.1" fill="none"/>
<path d="M144.8,294.5V297.7" stroke="#111" stroke-width="0.75" fill="none"/><path d="M143.2,294.5H146.4M143.2,297.7H146.4" stroke="#111" stroke-width="1.1" fill="none"/>
<path d="M146.7,288.2V291.4" stroke="#111" stroke-width="0.75" fill="none"/><path d="M145.1,288.2H148.3M145.1,291.4H148.3" stroke="#111" stroke-width="1.1" fill="none"/>
<path d="M148.5,283.8V287.0" stroke="#111" stroke-width="0.75" fill="none"/><path d="M146.9,283.8H150.1M146.9,287.0H150.1" stroke="#111" stroke-width="1.1" fill="none"/>
<path d="M150.2,290.4V293.6" stroke="#111" stroke-width="0.75" fill="none"/><path d="M148.6,290.4H151.8M148.6,293.6H151.8" stroke="#111" stroke-width="1.1" fill="none"/>
<path d="M151.8,284.5V287.7" stroke="#111" stroke-width="0.75" fill="none"/><path d="M150.2,284.5H153.4M150.2,287.7H153.4" stroke="#111" stroke-width="1.1" fill="none"/>
<path d="M153.9,287.5V290.7" stroke="#111" stroke-width="0.75" fill="none"/><path d="M152.3,287.5H155.5M152.3,290.7H155.5" stroke="#111" stroke-width="1.1" fill="none"/>
<path d="M155.8,289.7V292.9" stroke="#111" stroke-width="0.75" fill="none"/><path d="M154.2,289.7H157.4M154.2,292.9H157.4" stroke="#111" stroke-width="1.1" fill="none"/>
<path d="M157.6,284.5V287.7" stroke="#111" stroke-width="0.75" fill="none"/><path d="M156.0,284.5H159.2M156.0,287.7H159.2" stroke="#111" stroke-width="1.1" fill="none"/>
<path d="M159.2,283.1V286.3" stroke="#111" stroke-width="0.75" fill="none"/><path d="M157.6,283.1H160.8M157.6,286.3H160.8" stroke="#111" stroke-width="1.1" fill="none"/>
<path d="M160.9,290.4V293.6" stroke="#111" stroke-width="0.75" fill="none"/><path d="M159.3,290.4H162.5M159.3,293.6H162.5" stroke="#111" stroke-width="1.1" fill="none"/>
<path d="M163.4,286.0V289.2" stroke="#111" stroke-width="0.75" fill="none"/><path d="M161.8,286.0H165.0M161.8,289.2H165.0" stroke="#111" stroke-width="1.1" fill="none"/>
<path d="M164.6,289.7V292.9" stroke="#111" stroke-width="0.75" fill="none"/><path d="M163.0,289.7H166.2M163.0,292.9H166.2" stroke="#111" stroke-width="1.1" fill="none"/>
<path d="M166.5,292.6V295.8" stroke="#111" stroke-width="0.75" fill="none"/><path d="M164.9,292.6H168.1M164.9,295.8H168.1" stroke="#111" stroke-width="1.1" fill="none"/>
<path d="M168.3,287.5V290.7" stroke="#111" stroke-width="0.75" fill="none"/><path d="M166.7,287.5H169.9M166.7,290.7H169.9" stroke="#111" stroke-width="1.1" fill="none"/>
<path d="M170.7,287.2V290.4" stroke="#111" stroke-width="0.75" fill="none"/><path d="M169.1,287.2H172.3M169.1,290.4H172.3" stroke="#111" stroke-width="1.1" fill="none"/>
<path d="M172.7,293.0V296.2" stroke="#111" stroke-width="0.75" fill="none"/><path d="M171.1,293.0H174.3M171.1,296.2H174.3" stroke="#111" stroke-width="1.1" fill="none"/>
<path d="M174.9,291.1V294.3" stroke="#111" stroke-width="0.75" fill="none"/><path d="M173.3,291.1H176.5M173.3,294.3H176.5" stroke="#111" stroke-width="1.1" fill="none"/>
<path d="M178.0,296.0V299.2" stroke="#111" stroke-width="0.75" fill="none"/><path d="M176.4,296.0H179.6M176.4,299.2H179.6" stroke="#111" stroke-width="1.1" fill="none"/>
<path d="M183.1,287.9V291.1" stroke="#111" stroke-width="0.75" fill="none"/><path d="M181.5,287.9H184.7M181.5,291.1H184.7" stroke="#111" stroke-width="1.1" fill="none"/>
<path d="M185.0,288.9V292.1" stroke="#111" stroke-width="0.75" fill="none"/><path d="M183.4,288.9H186.6M183.4,292.1H186.6" stroke="#111" stroke-width="1.1" fill="none"/>
<path d="M187.5,287.2V290.4" stroke="#111" stroke-width="0.75" fill="none"/><path d="M185.9,287.2H189.1M185.9,290.4H189.1" stroke="#111" stroke-width="1.1" fill="none"/>
<path d="M189.4,287.2V290.4" stroke="#111" stroke-width="0.75" fill="none"/><path d="M187.8,287.2H191.0M187.8,290.4H191.0" stroke="#111" stroke-width="1.1" fill="none"/>
<path d="M191.9,287.5V290.7" stroke="#111" stroke-width="0.75" fill="none"/><path d="M190.3,287.5H193.5M190.3,290.7H193.5" stroke="#111" stroke-width="1.1" fill="none"/>
<path d="M195.2,286.7V289.9" stroke="#111" stroke-width="0.75" fill="none"/><path d="M193.6,286.7H196.8M193.6,289.9H196.8" stroke="#111" stroke-width="1.1" fill="none"/>
<path d="M202.1,294.1V297.3" stroke="#111" stroke-width="0.75" fill="none"/><path d="M200.5,294.1H203.7M200.5,297.3H203.7" stroke="#111" stroke-width="1.1" fill="none"/>
<path d="M204.3,293.3V296.5" stroke="#111" stroke-width="0.75" fill="none"/><path d="M202.7,293.3H205.9M202.7,296.5H205.9" stroke="#111" stroke-width="1.1" fill="none"/>
<path d="M209.0,287.2V290.4" stroke="#111" stroke-width="0.75" fill="none"/><path d="M207.4,287.2H210.6M207.4,290.4H210.6" stroke="#111" stroke-width="1.1" fill="none"/>
<path d="M210.9,290.1V293.3" stroke="#111" stroke-width="0.75" fill="none"/><path d="M209.3,290.1H212.5M209.3,293.3H212.5" stroke="#111" stroke-width="1.1" fill="none"/>
<path d="M213.1,288.9V292.1" stroke="#111" stroke-width="0.75" fill="none"/><path d="M211.5,288.9H214.7M211.5,292.1H214.7" stroke="#111" stroke-width="1.1" fill="none"/>
<path d="M215.3,288.9V292.1" stroke="#111" stroke-width="0.75" fill="none"/><path d="M213.7,288.9H216.9M213.7,292.1H216.9" stroke="#111" stroke-width="1.1" fill="none"/>
<path d="M217.8,284.2V287.4" stroke="#111" stroke-width="0.75" fill="none"/><path d="M216.2,284.2H219.4M216.2,287.4H219.4" stroke="#111" stroke-width="1.1" fill="none"/>
<path d="M219.7,288.9V292.1" stroke="#111" stroke-width="0.75" fill="none"/><path d="M218.1,288.9H221.3M218.1,292.1H221.3" stroke="#111" stroke-width="1.1" fill="none"/>
<path d="M221.6,290.4V293.6" stroke="#111" stroke-width="0.75" fill="none"/><path d="M220.0,290.4H223.2M220.0,293.6H223.2" stroke="#111" stroke-width="1.1" fill="none"/>
<path d="M223.4,301.0V304.2" stroke="#111" stroke-width="0.75" fill="none"/><path d="M221.8,301.0H225.0M221.8,304.2H225.0" stroke="#111" stroke-width="1.1" fill="none"/>
<path d="M225.1,292.6V295.8" stroke="#111" stroke-width="0.75" fill="none"/><path d="M223.5,292.6H226.7M223.5,295.8H226.7" stroke="#111" stroke-width="1.1" fill="none"/>
<path d="M228.6,282.4V285.6" stroke="#111" stroke-width="0.75" fill="none"/><path d="M227.0,282.4H230.2M227.0,285.6H230.2" stroke="#111" stroke-width="1.1" fill="none"/>
<path d="M230.2,296.4V299.6" stroke="#111" stroke-width="0.75" fill="none"/><path d="M228.6,296.4H231.8M228.6,299.6H231.8" stroke="#111" stroke-width="1.1" fill="none"/>
<path d="M232.1,288.7V291.9" stroke="#111" stroke-width="0.75" fill="none"/><path d="M230.5,288.7H233.7M230.5,291.9H233.7" stroke="#111" stroke-width="1.1" fill="none"/>
<path d="M233.8,287.6V290.8" stroke="#111" stroke-width="0.75" fill="none"/><path d="M232.2,287.6H235.4M232.2,290.8H235.4" stroke="#111" stroke-width="1.1" fill="none"/>
<path d="M235.3,279.8V283.0" stroke="#111" stroke-width="0.75" fill="none"/><path d="M233.7,279.8H236.9M233.7,283.0H236.9" stroke="#111" stroke-width="1.1" fill="none"/>
<path d="M237.5,283.2V286.4" stroke="#111" stroke-width="0.75" fill="none"/><path d="M235.9,283.2H239.1M235.9,286.4H239.1" stroke="#111" stroke-width="1.1" fill="none"/>
<path d="M238.9,293.5V296.7" stroke="#111" stroke-width="0.75" fill="none"/><path d="M237.3,293.5H240.5M237.3,296.7H240.5" stroke="#111" stroke-width="1.1" fill="none"/>
<path d="M240.8,289.1V292.3" stroke="#111" stroke-width="0.75" fill="none"/><path d="M239.2,289.1H242.4M239.2,292.3H242.4" stroke="#111" stroke-width="1.1" fill="none"/>
<path d="M250.7,283.9V287.1" stroke="#111" stroke-width="0.75" fill="none"/><path d="M249.1,283.9H252.3M249.1,287.1H252.3" stroke="#111" stroke-width="1.1" fill="none"/>
<path d="M252.1,285.1V288.3" stroke="#111" stroke-width="0.75" fill="none"/><path d="M250.5,285.1H253.7M250.5,288.3H253.7" stroke="#111" stroke-width="1.1" fill="none"/>
<path d="M254.3,290.5V293.7" stroke="#111" stroke-width="0.75" fill="none"/><path d="M252.7,290.5H255.9M252.7,293.7H255.9" stroke="#111" stroke-width="1.1" fill="none"/>
<path d="M256.1,286.6V289.8" stroke="#111" stroke-width="0.75" fill="none"/><path d="M254.5,286.6H257.7M254.5,289.8H257.7" stroke="#111" stroke-width="1.1" fill="none"/>
<path d="M258.0,282.5V285.7" stroke="#111" stroke-width="0.75" fill="none"/><path d="M256.4,282.5H259.6M256.4,285.7H259.6" stroke="#111" stroke-width="1.1" fill="none"/>
<path d="M259.8,286.9V290.1" stroke="#111" stroke-width="0.75" fill="none"/><path d="M258.2,286.9H261.4M258.2,290.1H261.4" stroke="#111" stroke-width="1.1" fill="none"/>
<path d="M261.7,288.0V291.2" stroke="#111" stroke-width="0.75" fill="none"/><path d="M260.1,288.0H263.3M260.1,291.2H263.3" stroke="#111" stroke-width="1.1" fill="none"/>
<path d="M263.4,300.8V304.0" stroke="#111" stroke-width="0.75" fill="none"/><path d="M261.8,300.8H265.0M261.8,304.0H265.0" stroke="#111" stroke-width="1.1" fill="none"/>
<path d="M264.9,289.8V293.0" stroke="#111" stroke-width="0.75" fill="none"/><path d="M263.3,289.8H266.5M263.3,293.0H266.5" stroke="#111" stroke-width="1.1" fill="none"/>
<path d="M266.8,283.9V287.1" stroke="#111" stroke-width="0.75" fill="none"/><path d="M265.2,283.9H268.4M265.2,287.1H268.4" stroke="#111" stroke-width="1.1" fill="none"/>
<path d="M268.5,291.3V294.5" stroke="#111" stroke-width="0.75" fill="none"/><path d="M266.9,291.3H270.1M266.9,294.5H270.1" stroke="#111" stroke-width="1.1" fill="none"/>
<path d="M270.5,287.2V290.4" stroke="#111" stroke-width="0.75" fill="none"/><path d="M268.9,287.2H272.1M268.9,290.4H272.1" stroke="#111" stroke-width="1.1" fill="none"/>
<path d="M273.7,294.5V297.7" stroke="#111" stroke-width="0.75" fill="none"/><path d="M272.1,294.5H275.3M272.1,297.7H275.3" stroke="#111" stroke-width="1.1" fill="none"/>
<path d="M275.6,291.3V294.5" stroke="#111" stroke-width="0.75" fill="none"/><path d="M274.0,291.3H277.2M274.0,294.5H277.2" stroke="#111" stroke-width="1.1" fill="none"/>
<path d="M277.1,300.8V304.0" stroke="#111" stroke-width="0.75" fill="none"/><path d="M275.5,300.8H278.7M275.5,304.0H278.7" stroke="#111" stroke-width="1.1" fill="none"/>
<path d="M279.0,293.5V296.7" stroke="#111" stroke-width="0.75" fill="none"/><path d="M277.4,293.5H280.6M277.4,296.7H280.6" stroke="#111" stroke-width="1.1" fill="none"/>
<path d="M280.4,290.5V293.7" stroke="#111" stroke-width="0.75" fill="none"/><path d="M278.8,290.5H282.0M278.8,293.7H282.0" stroke="#111" stroke-width="1.1" fill="none"/>
<path d="M282.2,280.7V283.9" stroke="#111" stroke-width="0.75" fill="none"/><path d="M280.6,280.7H283.8M280.6,283.9H283.8" stroke="#111" stroke-width="1.1" fill="none"/>
<path d="M284.4,297.1V300.3" stroke="#111" stroke-width="0.75" fill="none"/><path d="M282.8,297.1H286.0M282.8,300.3H286.0" stroke="#111" stroke-width="1.1" fill="none"/>
<path d="M285.7,330.0V333.2" stroke="#111" stroke-width="0.75" fill="none"/><path d="M284.1,330.0H287.3M284.1,333.2H287.3" stroke="#111" stroke-width="1.1" fill="none"/>
<path d="M288.8,353.4V356.6" stroke="#111" stroke-width="0.75" fill="none"/><path d="M287.2,353.4H290.4M287.2,356.6H290.4" stroke="#111" stroke-width="1.1" fill="none"/>
<path d="M290.9,347.1V350.3" stroke="#111" stroke-width="0.75" fill="none"/><path d="M289.3,347.1H292.5M289.3,350.3H292.5" stroke="#111" stroke-width="1.1" fill="none"/>
<path d="M293.2,367.0V370.2" stroke="#111" stroke-width="0.75" fill="none"/><path d="M291.6,367.0H294.8M291.6,370.2H294.8" stroke="#111" stroke-width="1.1" fill="none"/>
<path d="M294.3,371.0V374.2" stroke="#111" stroke-width="0.75" fill="none"/><path d="M292.7,371.0H295.9M292.7,374.2H295.9" stroke="#111" stroke-width="1.1" fill="none"/>
<circle cx="58.1" cy="335.4" r="1.5" fill="#ac1f35" stroke="#8a1528" stroke-width="0.2"/>
<circle cx="59.9" cy="368.4" r="1.5" fill="#ac1f35" stroke="#8a1528" stroke-width="0.2"/>
<circle cx="61.8" cy="347.1" r="1.5" fill="#ac1f35" stroke="#8a1528" stroke-width="0.2"/>
<circle cx="63.5" cy="361.0" r="1.5" fill="#ac1f35" stroke="#8a1528" stroke-width="0.2"/>
<circle cx="65.5" cy="353.0" r="1.5" fill="#ac1f35" stroke="#8a1528" stroke-width="0.2"/>
<circle cx="66.9" cy="299.3" r="1.5" fill="#ac1f35" stroke="#8a1528" stroke-width="0.2"/>
<circle cx="68.8" cy="312.8" r="1.5" fill="#ac1f35" stroke="#8a1528" stroke-width="0.2"/>
<circle cx="70.6" cy="305.5" r="1.5" fill="#ac1f35" stroke="#8a1528" stroke-width="0.2"/>
<circle cx="74.0" cy="296.4" r="1.5" fill="#ac1f35" stroke="#8a1528" stroke-width="0.2"/>
<circle cx="75.6" cy="286.9" r="1.5" fill="#ac1f35" stroke="#8a1528" stroke-width="0.2"/>
<circle cx="77.0" cy="283.9" r="1.5" fill="#ac1f35" stroke="#8a1528" stroke-width="0.2"/>
<circle cx="78.8" cy="286.9" r="1.5" fill="#ac1f35" stroke="#8a1528" stroke-width="0.2"/>
<circle cx="82.2" cy="292.0" r="1.5" fill="#ac1f35" stroke="#8a1528" stroke-width="0.2"/>
<circle cx="83.9" cy="297.1" r="1.5" fill="#ac1f35" stroke="#8a1528" stroke-width="0.2"/>
<circle cx="85.8" cy="291.7" r="1.5" fill="#ac1f35" stroke="#8a1528" stroke-width="0.2"/>
<circle cx="91.3" cy="289.8" r="1.5" fill="#ac1f35" stroke="#8a1528" stroke-width="0.2"/>
<circle cx="93.0" cy="292.0" r="1.5" fill="#ac1f35" stroke="#8a1528" stroke-width="0.2"/>
<circle cx="94.9" cy="288.3" r="1.5" fill="#ac1f35" stroke="#8a1528" stroke-width="0.2"/>
<circle cx="96.7" cy="287.6" r="1.5" fill="#ac1f35" stroke="#8a1528" stroke-width="0.2"/>
<circle cx="98.3" cy="294.9" r="1.5" fill="#ac1f35" stroke="#8a1528" stroke-width="0.2"/>
<circle cx="100.1" cy="288.3" r="1.5" fill="#ac1f35" stroke="#8a1528" stroke-width="0.2"/>
<circle cx="102.0" cy="289.1" r="1.5" fill="#ac1f35" stroke="#8a1528" stroke-width="0.2"/>
<circle cx="103.7" cy="289.8" r="1.5" fill="#ac1f35" stroke="#8a1528" stroke-width="0.2"/>
<circle cx="105.2" cy="304.9" r="1.5" fill="#ac1f35" stroke="#8a1528" stroke-width="0.2"/>
<circle cx="107.0" cy="297.9" r="1.5" fill="#ac1f35" stroke="#8a1528" stroke-width="0.2"/>
<circle cx="108.4" cy="292.7" r="1.5" fill="#ac1f35" stroke="#8a1528" stroke-width="0.2"/>
<circle cx="109.9" cy="285.4" r="1.5" fill="#ac1f35" stroke="#8a1528" stroke-width="0.2"/>
<circle cx="112.1" cy="292.7" r="1.5" fill="#ac1f35" stroke="#8a1528" stroke-width="0.2"/>
<circle cx="113.7" cy="288.3" r="1.5" fill="#ac1f35" stroke="#8a1528" stroke-width="0.2"/>
<circle cx="115.5" cy="288.3" r="1.5" fill="#ac1f35" stroke="#8a1528" stroke-width="0.2"/>
<circle cx="117.2" cy="291.3" r="1.5" fill="#ac1f35" stroke="#8a1528" stroke-width="0.2"/>
<circle cx="118.8" cy="289.8" r="1.5" fill="#ac1f35" stroke="#8a1528" stroke-width="0.2"/>
<circle cx="120.6" cy="287.6" r="1.5" fill="#ac1f35" stroke="#8a1528" stroke-width="0.2"/>
<circle cx="122.5" cy="289.1" r="1.5" fill="#ac1f35" stroke="#8a1528" stroke-width="0.2"/>
<circle cx="124.5" cy="291.3" r="1.5" fill="#ac1f35" stroke="#8a1528" stroke-width="0.2"/>
<circle cx="126.1" cy="299.3" r="1.5" fill="#ac1f35" stroke="#8a1528" stroke-width="0.2"/>
<circle cx="131.2" cy="292.7" r="1.5" fill="#ac1f35" stroke="#8a1528" stroke-width="0.2"/>
<circle cx="133.1" cy="278.8" r="1.5" fill="#ac1f35" stroke="#8a1528" stroke-width="0.2"/>
<circle cx="136.0" cy="292.0" r="1.5" fill="#ac1f35" stroke="#8a1528" stroke-width="0.2"/>
<circle cx="137.9" cy="291.7" r="1.5" fill="#ac1f35" stroke="#8a1528" stroke-width="0.2"/>
<circle cx="139.7" cy="289.8" r="1.5" fill="#ac1f35" stroke="#8a1528" stroke-width="0.2"/>
<circle cx="142.3" cy="293.5" r="1.5" fill="#ac1f35" stroke="#8a1528" stroke-width="0.2"/>
<circle cx="144.8" cy="296.1" r="1.5" fill="#ac1f35" stroke="#8a1528" stroke-width="0.2"/>
<circle cx="146.7" cy="289.8" r="1.5" fill="#ac1f35" stroke="#8a1528" stroke-width="0.2"/>
<circle cx="148.5" cy="285.4" r="1.5" fill="#ac1f35" stroke="#8a1528" stroke-width="0.2"/>
<circle cx="150.2" cy="292.0" r="1.5" fill="#ac1f35" stroke="#8a1528" stroke-width="0.2"/>
<circle cx="151.8" cy="286.1" r="1.5" fill="#ac1f35" stroke="#8a1528" stroke-width="0.2"/>
<circle cx="153.9" cy="289.1" r="1.5" fill="#ac1f35" stroke="#8a1528" stroke-width="0.2"/>
<circle cx="155.8" cy="291.3" r="1.5" fill="#ac1f35" stroke="#8a1528" stroke-width="0.2"/>
<circle cx="157.6" cy="286.1" r="1.5" fill="#ac1f35" stroke="#8a1528" stroke-width="0.2"/>
<circle cx="159.2" cy="284.7" r="1.5" fill="#ac1f35" stroke="#8a1528" stroke-width="0.2"/>
<circle cx="160.9" cy="292.0" r="1.5" fill="#ac1f35" stroke="#8a1528" stroke-width="0.2"/>
<circle cx="163.4" cy="287.6" r="1.5" fill="#ac1f35" stroke="#8a1528" stroke-width="0.2"/>
<circle cx="164.6" cy="291.3" r="1.5" fill="#ac1f35" stroke="#8a1528" stroke-width="0.2"/>
<circle cx="166.5" cy="294.2" r="1.5" fill="#ac1f35" stroke="#8a1528" stroke-width="0.2"/>
<circle cx="168.3" cy="289.1" r="1.5" fill="#ac1f35" stroke="#8a1528" stroke-width="0.2"/>
<circle cx="170.7" cy="288.8" r="1.5" fill="#ac1f35" stroke="#8a1528" stroke-width="0.2"/>
<circle cx="172.7" cy="294.6" r="1.5" fill="#ac1f35" stroke="#8a1528" stroke-width="0.2"/>
<circle cx="174.9" cy="292.7" r="1.5" fill="#ac1f35" stroke="#8a1528" stroke-width="0.2"/>
<circle cx="178.0" cy="297.6" r="1.5" fill="#ac1f35" stroke="#8a1528" stroke-width="0.2"/>
<circle cx="183.1" cy="289.5" r="1.5" fill="#ac1f35" stroke="#8a1528" stroke-width="0.2"/>
<circle cx="185.0" cy="290.5" r="1.5" fill="#ac1f35" stroke="#8a1528" stroke-width="0.2"/>
<circle cx="187.5" cy="288.8" r="1.5" fill="#ac1f35" stroke="#8a1528" stroke-width="0.2"/>
<circle cx="189.4" cy="288.8" r="1.5" fill="#ac1f35" stroke="#8a1528" stroke-width="0.2"/>
<circle cx="191.9" cy="289.1" r="1.5" fill="#ac1f35" stroke="#8a1528" stroke-width="0.2"/>
<circle cx="195.2" cy="288.3" r="1.5" fill="#ac1f35" stroke="#8a1528" stroke-width="0.2"/>
<circle cx="202.1" cy="295.7" r="1.5" fill="#ac1f35" stroke="#8a1528" stroke-width="0.2"/>
<circle cx="204.3" cy="294.9" r="1.5" fill="#ac1f35" stroke="#8a1528" stroke-width="0.2"/>
<circle cx="209.0" cy="288.8" r="1.5" fill="#ac1f35" stroke="#8a1528" stroke-width="0.2"/>
<circle cx="210.9" cy="291.7" r="1.5" fill="#ac1f35" stroke="#8a1528" stroke-width="0.2"/>
<circle cx="213.1" cy="290.5" r="1.5" fill="#ac1f35" stroke="#8a1528" stroke-width="0.2"/>
<circle cx="215.3" cy="290.5" r="1.5" fill="#ac1f35" stroke="#8a1528" stroke-width="0.2"/>
<circle cx="217.8" cy="285.8" r="1.5" fill="#ac1f35" stroke="#8a1528" stroke-width="0.2"/>
<circle cx="219.7" cy="290.5" r="1.5" fill="#ac1f35" stroke="#8a1528" stroke-width="0.2"/>
<circle cx="221.6" cy="292.0" r="1.5" fill="#ac1f35" stroke="#8a1528" stroke-width="0.2"/>
<circle cx="223.4" cy="302.6" r="1.5" fill="#ac1f35" stroke="#8a1528" stroke-width="0.2"/>
<circle cx="225.1" cy="294.2" r="1.5" fill="#ac1f35" stroke="#8a1528" stroke-width="0.2"/>
<circle cx="228.6" cy="284.0" r="1.5" fill="#ac1f35" stroke="#8a1528" stroke-width="0.2"/>
<circle cx="230.2" cy="298.0" r="1.5" fill="#ac1f35" stroke="#8a1528" stroke-width="0.2"/>
<circle cx="232.1" cy="290.3" r="1.5" fill="#ac1f35" stroke="#8a1528" stroke-width="0.2"/>
<circle cx="233.8" cy="289.2" r="1.5" fill="#ac1f35" stroke="#8a1528" stroke-width="0.2"/>
<circle cx="235.3" cy="281.4" r="1.5" fill="#ac1f35" stroke="#8a1528" stroke-width="0.2"/>
<circle cx="237.5" cy="284.8" r="1.5" fill="#ac1f35" stroke="#8a1528" stroke-width="0.2"/>
<circle cx="238.9" cy="295.1" r="1.5" fill="#ac1f35" stroke="#8a1528" stroke-width="0.2"/>
<circle cx="240.8" cy="290.7" r="1.5" fill="#ac1f35" stroke="#8a1528" stroke-width="0.2"/>
<circle cx="250.7" cy="285.5" r="1.5" fill="#ac1f35" stroke="#8a1528" stroke-width="0.2"/>
<circle cx="252.1" cy="286.7" r="1.5" fill="#ac1f35" stroke="#8a1528" stroke-width="0.2"/>
<circle cx="254.3" cy="292.1" r="1.5" fill="#ac1f35" stroke="#8a1528" stroke-width="0.2"/>
<circle cx="256.1" cy="288.2" r="1.5" fill="#ac1f35" stroke="#8a1528" stroke-width="0.2"/>
<circle cx="258.0" cy="284.1" r="1.5" fill="#ac1f35" stroke="#8a1528" stroke-width="0.2"/>
<circle cx="259.8" cy="288.5" r="1.5" fill="#ac1f35" stroke="#8a1528" stroke-width="0.2"/>
<circle cx="261.7" cy="289.6" r="1.5" fill="#ac1f35" stroke="#8a1528" stroke-width="0.2"/>
<circle cx="263.4" cy="302.4" r="1.5" fill="#ac1f35" stroke="#8a1528" stroke-width="0.2"/>
<circle cx="264.9" cy="291.4" r="1.5" fill="#ac1f35" stroke="#8a1528" stroke-width="0.2"/>
<circle cx="266.8" cy="285.5" r="1.5" fill="#ac1f35" stroke="#8a1528" stroke-width="0.2"/>
<circle cx="268.5" cy="292.9" r="1.5" fill="#ac1f35" stroke="#8a1528" stroke-width="0.2"/>
<circle cx="270.5" cy="288.8" r="1.5" fill="#ac1f35" stroke="#8a1528" stroke-width="0.2"/>
<circle cx="273.7" cy="296.1" r="1.5" fill="#ac1f35" stroke="#8a1528" stroke-width="0.2"/>
<circle cx="275.6" cy="292.9" r="1.5" fill="#ac1f35" stroke="#8a1528" stroke-width="0.2"/>
<circle cx="277.1" cy="302.4" r="1.5" fill="#ac1f35" stroke="#8a1528" stroke-width="0.2"/>
<circle cx="279.0" cy="295.1" r="1.5" fill="#ac1f35" stroke="#8a1528" stroke-width="0.2"/>
<circle cx="280.4" cy="292.1" r="1.5" fill="#ac1f35" stroke="#8a1528" stroke-width="0.2"/>
<circle cx="282.2" cy="282.3" r="1.5" fill="#ac1f35" stroke="#8a1528" stroke-width="0.2"/>
<circle cx="284.4" cy="298.7" r="1.5" fill="#ac1f35" stroke="#8a1528" stroke-width="0.2"/>
<circle cx="285.7" cy="331.6" r="1.5" fill="#ac1f35" stroke="#8a1528" stroke-width="0.2"/>
<circle cx="288.8" cy="355.0" r="1.5" fill="#ac1f35" stroke="#8a1528" stroke-width="0.2"/>
<circle cx="290.9" cy="348.7" r="1.5" fill="#ac1f35" stroke="#8a1528" stroke-width="0.2"/>
<circle cx="293.2" cy="368.6" r="1.5" fill="#ac1f35" stroke="#8a1528" stroke-width="0.2"/>
<circle cx="294.3" cy="372.6" r="1.5" fill="#ac1f35" stroke="#8a1528" stroke-width="0.2"/>
<text transform="translate(101.5,315) scale(0.93,1)" font-size="6.4" fill="#333" style="font-family:'Liberation Sans',sans-serif">G31</text>
<text transform="translate(174.9,306.7) scale(0.93,1)" font-size="6.4" fill="#333" style="font-family:'Liberation Sans',sans-serif">K73</text>
<text transform="translate(213.4,310.6) scale(0.93,1)" font-size="6.4" fill="#333" style="font-family:'Liberation Sans',sans-serif">A99</text>
<text transform="translate(228.7,308) scale(0.93,1)" font-size="6.4" fill="#333" style="font-family:'Liberation Sans',sans-serif">M103</text>
<text transform="translate(254,310.9) scale(0.93,1)" font-size="6.4" fill="#333" style="font-family:'Liberation Sans',sans-serif">C122</text>
<text transform="translate(270.7,309.7) scale(0.93,1)" font-size="6.4" fill="#333" style="font-family:'Liberation Sans',sans-serif">S130</text>
<text transform="translate(28.5,73.5) rotate(-90)" text-anchor="middle" font-size="7.3" fill="#222" style="font-family:'Liberation Sans',sans-serif">R<tspan font-size="4.6" dy="1.8">1</tspan><tspan dy="-1.8"> (s</tspan><tspan font-size="4.6" dy="-2.9">-1</tspan><tspan dy="2.9">)</tspan></text>
<text transform="translate(28.5,200.7) rotate(-90)" text-anchor="middle" font-size="7.3" fill="#222" style="font-family:'Liberation Sans',sans-serif">R<tspan font-size="4.6" dy="1.8">2</tspan><tspan dy="-1.8"> (s</tspan><tspan font-size="4.6" dy="-2.9">-1</tspan><tspan dy="2.9">)</tspan></text>
<text transform="translate(26.8,327.7) rotate(-90)" text-anchor="middle" font-size="7.4" fill="#222" style="font-family:'Liberation Sans',sans-serif"><tspan font-size="4.6" dy="-2.9">15</tspan><tspan dy="2.9">N{</tspan><tspan font-size="4.6" dy="-2.9">1</tspan><tspan dy="2.9">H}NOE</tspan></text>
<text transform="translate(179.2,400.2) scale(0.9,1)" text-anchor="middle" font-size="8.9" fill="#222" style="font-family:'Liberation Sans',sans-serif">Residue number</text>
<text transform="translate(7.6,17.1) scale(0.88,1)" font-size="11" fill="#111" style="font-family:'Liberation Sans',sans-serif">A</text>
<text transform="translate(321.4,17.1) scale(0.85,1)" font-size="11" fill="#111" style="font-family:'Liberation Sans',sans-serif">B</text>
<defs><radialGradient id="gO" cx="0.38" cy="0.35" r="0.7"><stop offset="0" stop-color="#f6c27a"/><stop offset="0.55" stop-color="#e08d2c"/><stop offset="1" stop-color="#a85a10"/></radialGradient><radialGradient id="gG" cx="0.4" cy="0.38" r="0.7"><stop offset="0" stop-color="#c8f0d0"/><stop offset="0.55" stop-color="#72c488"/><stop offset="1" stop-color="#3f8a58"/></radialGradient><linearGradient id="gB" x1="0" y1="0" x2="1" y2="0"><stop offset="0" stop-color="#5559a6"/><stop offset="0.4" stop-color="#8286ca"/><stop offset="0.75" stop-color="#5d61ab"/><stop offset="1" stop-color="#3c3f88"/></linearGradient><linearGradient id="gGr" x1="0" y1="0" x2="1" y2="1"><stop offset="0" stop-color="#d6d6d6"/><stop offset="1" stop-color="#7a7a7a"/></linearGradient><linearGradient id="gM" x1="0" y1="0" x2="0" y2="1"><stop offset="0" stop-color="#9a5565"/><stop offset="0.5" stop-color="#c28a94"/><stop offset="1" stop-color="#8c4c5b"/></linearGradient></defs>
<path d="M388.8,195.0 C388.7,196.2 388.2,199.2 388.3,202.0 C388.4,204.8 388.6,208.8 389.6,211.7 C390.6,214.6 392.9,217.7 394.5,219.5 C396.1,221.3 398.1,222.2 399.5,222.5 C400.9,222.8 402.4,221.2 403.0,221.0" fill="none" stroke="#ae7480" stroke-width="1.7" stroke-linecap="round" stroke-linejoin="round"/>
<path d="M404.4,236.2 C404.7,237.8 405.2,243.1 406.4,245.9 C407.5,248.7 409.7,250.7 411.3,252.8 C412.9,254.9 415.2,256.5 416.2,258.6 C417.2,260.7 417.3,263.0 417.3,265.5 C417.3,268.0 417.2,271.7 416.4,273.5 C415.5,275.3 414.0,276.5 412.2,276.5 C410.4,276.5 408.2,275.3 405.4,273.3 C402.6,271.3 398.2,267.1 395.6,264.5 C393.0,261.9 390.6,260.5 389.8,257.6 C389.0,254.7 390.2,250.3 390.7,246.9 C391.2,243.5 392.4,238.7 392.7,237.1" fill="none" stroke="#ae7480" stroke-width="1.7" stroke-linecap="round" stroke-linejoin="round"/>
<path d="M403.0,219.0 C403.4,218.8 403.4,218.3 405.4,217.6 C407.4,216.9 411.9,215.7 415.2,214.7 C418.5,213.7 421.9,212.1 425.0,211.7 C428.1,211.3 430.8,212.6 433.6,212.3 C436.5,212.0 440.0,210.0 442.1,209.7 C444.2,209.4 445.2,209.8 446.4,210.5 C447.5,211.2 448.0,212.4 449.0,214.0 C450.0,215.6 451.1,218.4 452.4,220.0 C453.7,221.6 454.8,223.0 456.7,223.4 C458.6,223.8 461.9,222.2 463.5,222.5 C465.1,222.8 465.8,223.7 466.1,225.1 C466.4,226.5 465.9,229.2 465.2,231.1 C464.5,232.9 462.8,234.5 461.8,236.2 C460.8,237.9 460.1,239.7 459.2,241.4 C458.3,243.1 457.8,244.5 456.7,246.5 C455.6,248.5 454.5,251.7 452.4,253.4 C450.2,255.1 446.1,256.4 443.8,256.8 C441.5,257.2 440.7,256.2 438.7,255.9 C436.7,255.6 434.1,254.9 431.8,255.1 C429.5,255.2 427.1,256.7 425.0,256.8 C422.9,256.9 420.4,256.1 419.5,256.0" fill="none" stroke="#ae7480" stroke-width="1.7" stroke-linecap="round" stroke-linejoin="round"/>
<path d="M456.0,178.3 C457.0,178.7 460.4,179.4 462.0,180.5 C463.6,181.6 464.7,183.1 465.5,185.0 C466.3,186.9 466.2,189.9 466.8,192.0 C467.4,194.1 468.5,196.2 468.8,197.8 C469.1,199.4 469.2,200.7 468.5,201.5 C467.8,202.3 466.5,202.3 464.4,202.8 C462.3,203.3 458.4,203.9 455.8,204.6 C453.2,205.3 450.7,206.1 449.0,207.1 C447.3,208.1 446.2,208.8 445.5,210.5 C444.8,212.2 444.7,215.1 444.7,217.4 C444.7,219.7 445.6,222.2 445.5,224.2 C445.4,226.2 445.5,228.0 443.8,229.4 C442.1,230.8 437.6,232.0 435.3,232.8 C433.0,233.7 431.4,233.3 430.1,234.5 C428.8,235.7 428.2,237.4 427.6,239.7 C427.0,242.0 427.2,246.0 426.7,248.2 C426.2,250.4 425.7,251.7 424.5,253.0 C423.3,254.3 420.8,255.1 419.5,256.0 C418.2,256.9 417.0,258.1 416.5,258.5" fill="none" stroke="#ae7480" stroke-width="1.7" stroke-linecap="round" stroke-linejoin="round"/>
<path d="M412.5,187.5 L417.0,189.5 L395.5,238.0 L391.0,237.5 Z" fill="#8f8f8f"/>
<path d="M414.0,188.5 L416.0,189.5 L394.5,237.5 L392.5,237.3 Z" fill="#b5b5b5"/>
<path d="M398.5,222.0 L401.5,221.0 L406.0,236.5 L402.8,237.0 Z" fill="#b27983"/>
<path d="M398.0,223.0 L424.5,189.0 L421.8,187.3 L434.5,181.5 L432.5,193.5 L429.2,191.5 L402.5,226.5 Z" fill="#b27983" stroke="#8a4b59" stroke-width="0.4"/>
<path d="M400.0,223.5 L426.0,190.0 L428.0,191.0 L402.0,225.5 Z" fill="#c99aa3"/>
<path d="M434.9,165.4 C435.9,166.1 439.3,168.7 441.2,169.4 C443.1,170.1 445.2,169.6 446.0,169.6" fill="none" stroke="#ae7480" stroke-width="1.75" stroke-linecap="round" stroke-linejoin="round"/>
<path d="M446.0,169.6 C445.0,170.5 441.8,173.4 440.0,175.0 C438.2,176.6 435.8,178.3 435.0,179.0" fill="none" stroke="#ae7480" stroke-width="1.4" stroke-linecap="round" stroke-linejoin="round"/>
<ellipse cx="450.2" cy="189.5" rx="9" ry="8.4" fill="none" stroke="#9b5a69" stroke-width="2.6"/>
<path d="M445,182.5 A9,8.4 0 0 0 448.5,197.8" fill="none" stroke="#7e7e7e" stroke-width="2.6"/>
<ellipse cx="449.6" cy="189" rx="11.6" ry="10.9" fill="none" stroke="#8a4b59" stroke-width="1.3"/>
<ellipse cx="450.4" cy="189.6" rx="7.4" ry="6.9" fill="none" stroke="#6a3a46" stroke-width="0.7"/>
<line x1="450.8" y1="191.2" x2="440.6" y2="197" stroke="#6a3a46" stroke-width="1.3"/>
<path d="M418.0,153.0 L431.0,156.0 L435.0,165.0 L434.0,176.0 L426.0,174.0 L416.0,172.0 L414.0,188.0 L414.0,200.0 L403.0,200.0 L400.0,186.0 L400.0,174.0 L410.0,166.0 Z" fill="#a3a3a3"/>
<path d="M418.5,162.5 L423.0,161.5 L427.0,166.0 L426.0,171.5 L419.0,170.5 Z" fill="#d9a9b2"/>
<path d="M401.5,174.0 L407.0,171.5 L409.0,184.0 L403.5,187.0 Z" fill="#c7c7c7"/>
<path d="M426.0,158.0 L432.0,158.0 L433.0,168.0 L428.0,166.0 Z" fill="#c9c9c9"/>
<path d="M428.3,159.6 L434.2,148.3 L435.0,152.0 L431.0,163.0 L424.0,166.0 Z" fill="#a8a8a8"/>
<path d="M416.2,152.3 L426.1,143.9 L434.2,148.3 L428.3,159.6 Z" fill="#a86472" stroke="#8a4b59" stroke-width="0.5"/>
<path d="M418.5,152.0 L426.0,145.8 L431.5,148.8 L425.0,150.5 Z" fill="#b97a86"/>
<path d="M398.0,169.3 L403.1,163.5 L407.5,161.7 L412.7,163.2 L418.5,166.4 L424.4,169.3 L428.8,171.5 L433.2,175.2 L434.7,178.9 L433.9,181.5 L430.3,181.0 L424.4,178.3 L419.0,176.8 L412.1,174.2 L405.3,172.5 L401.7,172.5 L399.5,173.5 Z" fill="#ae6e7b" stroke="#8a4b59" stroke-width="0.5"/>
<path d="M400.0,168.5 L404.0,164.2 L408.0,163.0 L413.0,164.8 L419.0,168.0 L425.0,171.0 L430.0,174.0 L424.0,172.5 L418.0,169.8 L412.0,167.2 L406.0,166.0 Z" fill="#c58e98"/>
<path d="M379.7,185.5 L384.8,181.1 L390.7,180.3 L398.0,183.3 L405.3,186.9 L410.5,190.6 L412.7,194.3 L412.0,198.0 L407.0,197.0 L401.0,195.5 L395.0,194.5 L389.0,193.5 L383.8,192.0 Z" fill="#ae6e7b" stroke="#8a4b59" stroke-width="0.5"/>
<path d="M381.5,184.8 L385.5,182.2 L391.0,181.6 L398.0,184.6 L405.0,188.2 L409.5,191.5 L403.0,189.2 L396.0,186.3 L390.0,184.8 L385.0,185.5 Z" fill="#c58e98"/>
<path d="M453.6,120.5 C454.5,121.4 457.7,123.2 458.7,125.7 C459.7,128.2 459.4,132.5 459.5,135.2 C459.6,137.9 460.0,139.6 459.5,141.8 C459.0,144.0 458.1,146.3 456.5,148.4 C454.9,150.5 452.6,153.1 449.9,154.3 C447.2,155.5 442.9,155.2 440.4,155.5 C437.9,155.8 435.8,155.8 434.9,155.9" fill="none" stroke="#9a9a9a" stroke-width="1.8" stroke-linecap="round" stroke-linejoin="round"/>
<path d="M365.5,112.5 C364.3,113.8 360.7,117.6 358.4,120.4 C356.1,123.2 352.7,127.7 351.5,129.5 C350.3,131.3 351.1,130.2 351.3,131.5 C351.5,132.8 351.9,135.1 352.5,137.0 C353.1,138.9 353.7,140.7 354.6,142.7 C355.5,144.7 356.4,147.3 357.8,149.0 C359.2,150.7 360.6,152.2 363.1,153.0 C365.6,153.8 369.5,153.9 372.7,153.8 C375.9,153.7 379.0,152.9 382.2,152.2 C385.4,151.5 388.7,150.6 391.7,149.8 C394.7,149.0 397.6,148.2 400.0,147.4 C402.4,146.6 403.2,146.2 406.0,145.0 C408.8,143.8 413.9,142.0 416.7,140.2 C419.4,138.4 421.8,136.4 422.5,134.3 C423.2,132.2 422.0,129.3 421.0,127.7 C420.0,126.1 418.6,125.3 416.7,124.8 C414.8,124.3 411.5,124.2 409.3,124.8 C407.1,125.4 405.4,127.2 403.5,128.5 C401.6,129.8 399.9,133.1 397.6,132.9 C395.4,132.7 392.4,128.4 390.0,127.5 C387.6,126.6 385.2,126.9 383.5,127.5 C381.8,128.1 380.5,129.4 379.5,131.0 C378.5,132.6 378.3,135.3 377.4,137.1 C376.5,138.9 375.6,140.4 374.3,141.9 C373.0,143.4 372.4,145.0 369.5,145.8 C366.6,146.6 360.8,147.0 356.8,146.6 C352.8,146.2 349.0,145.2 345.7,143.5 C342.4,141.8 338.9,138.8 336.9,136.3 C334.9,133.8 334.1,130.8 333.7,128.4 C333.3,126.0 334.2,124.9 334.5,122.0 C334.8,119.1 334.7,114.2 335.3,110.9 C335.9,107.6 337.6,103.5 338.0,102.0" fill="none" stroke="#5b5ea6" stroke-width="1.75" stroke-linecap="round" stroke-linejoin="round"/>
<path d="M406.3,64.0 C405.2,64.7 401.6,66.3 400.0,68.0 C398.4,69.7 397.3,71.9 396.5,74.0 C395.7,76.1 395.6,79.4 395.4,80.5" fill="none" stroke="#5b5ea6" stroke-width="1.75" stroke-linecap="round" stroke-linejoin="round"/>
<path d="M427.0,101.0 C428.5,102.6 434.5,108.9 436.0,110.5" fill="none" stroke="#5b5ea6" stroke-width="1.5" stroke-linecap="round" stroke-linejoin="round"/>
<path d="M440.8,97.5 C440.8,99.3 440.6,106.7 440.6,108.5" fill="none" stroke="#5b5ea6" stroke-width="1.3" stroke-linecap="round" stroke-linejoin="round"/>
<path d="M364.8,113.3 C364.2,113.9 361.6,116.4 361.0,117.0" fill="none" stroke="#5b5ea6" stroke-width="1.5" stroke-linecap="round" stroke-linejoin="round"/>
<path d="M447.0,131.0 L453.0,122.0 L455.0,128.0 Z" fill="#5d61aa"/>
<path d="M436.9,124 C436.3,116 438.5,110 443,108 C448,106.3 452.6,109.5 453.8,115 L454,120.5 L451.5,118.4 C449,116 445.5,115.2 442.8,115.8 C440.3,116.6 439.3,119.5 438.8,124 Z" fill="#5e5e5e"/>
<path d="M439.3,121 C439.6,117.5 441.5,116 443.5,115.8 C446.5,115.5 449.5,116.5 451.8,119" fill="none" stroke="#b8b8b8" stroke-width="0.9"/>
<path d="M438.6,120.8 L453.1,121.2" stroke="#8a8a8a" stroke-width="1.4"/>
<circle cx="370.5" cy="100.2" r="2.9" fill="url(#gO)"/>
<path d="M386.0,91.8 L393.5,92.2 L406.9,94.2 L417.7,97.6 L425.0,100.0 L424.5,104.5 L416.3,102.3 L406.9,98.2 L393.5,95.6 L386.0,95.5 Z" fill="#7175bb" stroke="#4a4d94" stroke-width="0.4"/>
<path d="M390.0,92.6 L406.9,94.8 L417.0,98.0 L406.0,96.2 L393.0,93.8 Z" fill="#8488c8"/>
<path d="M337.7,98.8 L348.5,95.8 L362.0,93.4 L375.0,92.5 L390.0,92.2 L400.0,91.2 L400.0,94.8 L388.0,95.8 L375.0,97.5 L362.0,100.0 L350.0,103.0 L341.0,104.9 Z" fill="#666ab2" stroke="#45488f" stroke-width="0.4"/>
<path d="M339.5,99.3 L348.5,96.8 L362.0,94.6 L375.0,93.8 L390.0,93.5 L375.0,95.0 L362.0,96.3 L349.0,98.8 Z" fill="#7c80c2"/>
<path d="M346.0,94.6 L360.0,91.0 L372.5,90.2 L385.0,90.6 L393.0,88.7 L401.0,86.5 L401.0,90.8 L393.0,92.3 L385.0,93.8 L372.5,93.9 L360.0,94.5 L348.0,97.0 Z" fill="#a6a6ac"/>
<path d="M350.0,94.0 L360.0,91.6 L372.5,90.9 L385.0,91.3 L395.0,89.2 L385.0,92.3 L372.0,92.6 L360.0,93.0 Z" fill="#eeeef2"/>
<path d="M390.0,88.5 L371.5,102.3 L367.5,101.2 L365.8,113.2 L376.0,109.8 L374.3,106.2 L393.0,92.3 Z" fill="#6a6eb6" stroke="#45488f" stroke-width="0.4"/>
<path d="M389.0,89.8 L372.0,103.0 L368.8,102.6 L367.3,110.5 L373.2,104.0 L389.5,91.5 Z" fill="#8a8ecc"/>
<path d="M390.8,89.3 L400.2,84.8 L413.6,82.1 L424.4,81.4 L433.8,83.4 L443.3,86.8 L448.0,91.0 L450.0,94.2 L444.6,93.5 L433.8,90.2 L420.4,89.5 L406.9,90.2 L398.0,92.0 L391.0,93.5 Z" fill="#7e82c4" stroke="#5a5ea6" stroke-width="0.4"/>
<path d="M398.0,86.8 L410.0,83.6 L424.0,83.0 L435.0,85.0 L442.0,88.0 L432.0,86.5 L420.0,86.0 L405.0,87.3 Z" fill="#a9acdc"/>
<path d="M395.4,80.5 C395.1,81.4 393.3,84.2 393.6,86.0 C393.9,87.8 395.4,89.5 397.0,91.0 C398.6,92.5 401.8,92.8 403.0,95.0 C404.2,97.2 404.2,101.8 404.5,104.5 C404.8,107.2 404.2,109.2 405.0,111.0 C405.8,112.8 407.4,114.1 409.3,115.3 C411.2,116.5 414.8,116.8 416.7,118.2 C418.6,119.7 419.9,122.0 421.0,124.0 C422.1,126.0 421.5,128.2 423.0,130.0 C424.5,131.8 427.2,133.8 430.0,134.5 C432.8,135.2 437.2,135.0 440.0,134.5 C442.8,134.0 445.0,132.7 447.0,131.5 C449.0,130.3 451.2,128.2 452.0,127.5" fill="none" stroke="#5b5ea6" stroke-width="1.75" stroke-linecap="round" stroke-linejoin="round"/>
<path d="M407.7,59.8 L413.1,53.7 L417.8,53.1 L418.5,65.2 L413.7,67.9 Z" fill="url(#gGr)"/>
<path d="M429.9,76.0 L431.9,71.2 L437.3,66.5 L440.7,65.2 L441.3,78.0 L437.3,82.0 L431.2,81.3 Z" fill="url(#gGr)"/>
<path d="M455.5,85.0 L463.2,74.3 L467.5,74.8 L474.2,80.4 L470.0,90.5 L459.3,94.1 Z" fill="url(#gGr)"/>
<path d="M407.7,59.8 L413.1,53.7 L417.8,53.1" fill="none" stroke="#3c3f86" stroke-width="1"/>
<path d="M431.2,72 L437.3,66.5 L441,65.2" fill="none" stroke="#3c3f86" stroke-width="1"/>
<path d="M455.5,85 L463.2,74.3 L467.5,74.8" fill="none" stroke="#3c3f86" stroke-width="1"/>
<path d="M417.1,53.1 C421,52 426.5,54.5 429.2,59.5 C430.5,64 430,72 429.6,78 C429.3,82 427,84 424,83.6 C421,83 419.3,81.3 418.6,77 C418,70 417.6,62 417.1,53.1 Z" fill="url(#gB)" stroke="#34377c" stroke-width="0.8"/>
<path d="M440.5,65.2 C445,64 450,65.5 453.5,70.5 C455,75 455,82 454.5,88.5 C454,92 451.5,93.5 449,92.8 C446,92 444,89 443.2,85 C442.2,78 441.5,71 440.5,65.2 Z" fill="url(#gB)" stroke="#34377c" stroke-width="0.8"/>
<path d="M458.5,93.5 C458.7,92.0 458.9,86.3 459.9,84.5 C460.9,82.7 463.1,81.9 464.5,82.4 C465.9,82.9 467.3,86.5 468.5,87.3 C469.7,88.1 470.6,88.3 471.5,87.3 C472.4,86.3 474.1,83.1 474.2,81.5 C474.3,79.9 473.2,78.5 472.0,77.5 C470.8,76.5 467.8,75.8 467.0,75.5" fill="none" stroke="#4b4f9f" stroke-width="1.6" stroke-linecap="round" stroke-linejoin="round"/>
<path d="M429.6,79 C433,83 438,84 443.5,85.5" fill="none" stroke="#4a4e98" stroke-width="2.2"/>
<line x1="429.6" y1="56.4" x2="425.2" y2="65" stroke="#111" stroke-width="0.9"/>
<circle cx="406.5" cy="64" r="2.9" fill="url(#gO)"/>
<circle cx="364" cy="108.4" r="2.9" fill="url(#gO)"/>
<circle cx="419.6" cy="100.9" r="2.9" fill="url(#gO)"/>
<circle cx="427" cy="100.7" r="2.9" fill="url(#gO)"/>
<circle cx="436" cy="110.4" r="2.9" fill="url(#gO)"/>
<circle cx="378.4" cy="136.7" r="2.9" fill="url(#gO)"/>
<circle cx="446.3" cy="169.8" r="2.9" fill="url(#gO)"/>
<circle cx="395.3" cy="80.6" r="3.0" fill="url(#gG)"/>
<circle cx="461.4" cy="88.1" r="3.0" fill="url(#gG)"/>
<circle cx="403.5" cy="128.5" r="3.0" fill="url(#gG)"/>
<circle cx="459.3" cy="141.9" r="3.0" fill="url(#gG)"/>
<circle cx="390.2" cy="258" r="3.0" fill="url(#gG)"/>
<text x="382.5" y="62.3" font-size="7.7" fill="#222" text-anchor="start" style="font-family:'Liberation Sans',sans-serif">E119</text>
<text x="424.1" y="53.7" font-size="7.7" fill="#222" text-anchor="start" style="font-family:'Liberation Sans',sans-serif">C122</text>
<text x="368.7" y="84.8" font-size="7.7" fill="#222" text-anchor="start" style="font-family:'Liberation Sans',sans-serif">M103</text>
<text x="430.5" y="83.1" font-size="7.7" fill="#222" text-anchor="start" style="font-family:'Liberation Sans',sans-serif">A99</text>
<text x="346.5" y="96.1" font-size="7.7" fill="#222" text-anchor="start" style="font-family:'Liberation Sans',sans-serif">Y106</text>
<text x="421.3" y="96.6" font-size="7.7" fill="#222" text-anchor="start" style="font-family:'Liberation Sans',sans-serif">D95</text>
<text x="464.7" y="99" font-size="7.7" fill="#222" text-anchor="start" style="font-family:'Liberation Sans',sans-serif">S130</text>
<text x="440.8" y="104" font-size="7.7" fill="#222" text-anchor="start" style="font-family:'Liberation Sans',sans-serif">T96</text>
<text x="342.8" y="111.1" font-size="7.7" fill="#222" text-anchor="start" style="font-family:'Liberation Sans',sans-serif">T105</text>
<text x="407.8" y="113.1" font-size="7.7" fill="#222" text-anchor="start" style="font-family:'Liberation Sans',sans-serif">Y94</text>
<text x="380" y="144.8" font-size="7.7" fill="#222" text-anchor="start" style="font-family:'Liberation Sans',sans-serif">G83</text>
<text x="463.6" y="141.1" font-size="7.7" fill="#222" text-anchor="start" style="font-family:'Liberation Sans',sans-serif">K73</text>
<text x="455.2" y="170.8" font-size="7.7" fill="#222" text-anchor="start" style="font-family:'Liberation Sans',sans-serif">K39</text>
<text x="398.2" y="183.6" font-size="7.7" fill="#222" text-anchor="start" style="font-family:'Liberation Sans',sans-serif">C43</text>
<text x="371.7" y="266.5" font-size="7.7" fill="#222" text-anchor="start" style="font-family:'Liberation Sans',sans-serif">G31</text>
<text transform="translate(342,67.2) rotate(-34)" font-size="8.2" fill="#5b5ea8" style="font-family:'Liberation Sans',sans-serif">Dynamic Domain</text>
<text transform="translate(408.5,321) rotate(-34)" font-size="8.2" fill="#a85a78" style="font-family:'Liberation Sans',sans-serif">Rigid Domain</text>
<path d="M494.3,42.7 H497.5 V150 H494.3" fill="none" stroke="#222" stroke-width="0.9"/>
<path d="M494.3,160.2 H497.5 V267.5 H494.3" fill="none" stroke="#222" stroke-width="0.9"/>
<text transform="translate(511,96.6) rotate(-90)" text-anchor="middle" font-size="8" fill="#222" style="font-family:'Liberation Sans',sans-serif">K2 domain</text>
<text transform="translate(511,213.8) rotate(-90)" text-anchor="middle" font-size="8" fill="#222" style="font-family:'Liberation Sans',sans-serif">K1 domain</text>
<rect x="0" y="1" width="2" height="407" fill="#a9a9a9"/><rect x="0" y="0" width="1" height="409" fill="#4a4a4a"/>
<rect x="0" y="1" width="520" height="1" fill="#a9a9a9"/><rect x="0" y="0" width="520" height="1" fill="#4a4a4a"/>
<rect x="0" y="407" width="520" height="1" fill="#a0a0a0"/><rect x="0" y="408" width="520" height="1" fill="#505050"/>
<rect x="518" y="1" width="1" height="408" fill="#c8c8c8"/><rect x="519" y="0" width="1" height="409" fill="#080808"/>
</svg></body></html>
